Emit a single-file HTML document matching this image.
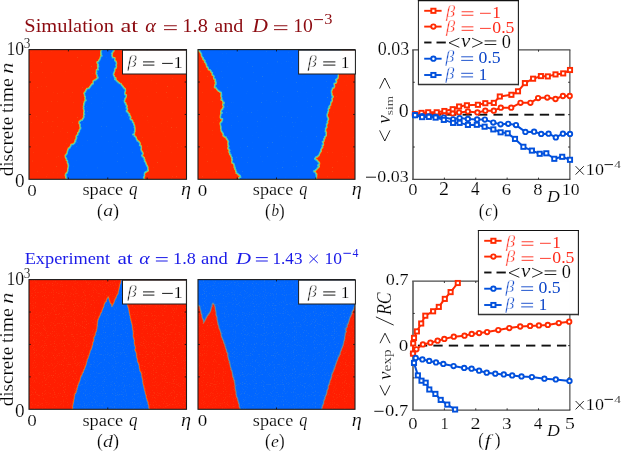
<!DOCTYPE html>
<html><head><meta charset="utf-8"><title>figure</title>
<style>
html,body{margin:0;padding:0;background:#fff;}
body{width:623px;height:452px;overflow:hidden;position:relative;font-family:"Liberation Serif",serif;}
svg{position:absolute;left:0;top:0;display:block;filter:blur(0.3px);}
svg text{font-family:"Liberation Serif",serif;white-space:pre;}
</style></head><body>
<svg width="623" height="452" viewBox="0 0 623 452">
<defs>
<filter id="nzTop" x="0" y="0" width="100%" height="100%" color-interpolation-filters="sRGB">
<feTurbulence type="fractalNoise" baseFrequency="0.8" numOctaves="1" seed="11" result="n"/>
<feColorMatrix in="n" type="matrix" values="0 0 0 0 0.8  0 0 0 0 0.9  0 0 0 0 0.45  0 0 0 6 -4.3" result="s0"/>
<feComponentTransfer in="s0" result="sp"><feFuncA type="linear" slope="0.28"/></feComponentTransfer>
<feComposite in="sp" in2="SourceGraphic" operator="atop"/>
</filter>
<filter id="nzBot" x="0" y="0" width="100%" height="100%" color-interpolation-filters="sRGB">
<feTurbulence type="fractalNoise" baseFrequency="0.9" numOctaves="1" seed="5" result="n"/>
<feColorMatrix in="n" type="matrix" values="0 0 0 0 0.9  0 0 0 0 0.85  0 0 0 0 0.45  0 0 0 5 -2.9" result="s0"/>
<feComponentTransfer in="s0" result="sp"><feFuncA type="linear" slope="0.13"/></feComponentTransfer>
<feComposite in="sp" in2="SourceGraphic" operator="atop"/>
</filter>
</defs>
<g opacity="0.999">
<clipPath id="ca"><rect x="29.0" y="49.6" width="157.5" height="129.70000000000002"/></clipPath>
<g clip-path="url(#ca)"><g filter="url(#nzTop)">
<rect x="27.0" y="47.6" width="161.5" height="133.70000000000002" fill="#ff2800"/>
<path d="M102.2 49.0 L102.2 50.0 L101.7 50.0 L101.7 51.0 L101.1 51.0 L101.1 51.9 L101.0 51.9 L101.0 52.8 L101.7 52.8 L101.7 53.6 L101.0 53.6 L101.0 54.5 L101.7 54.5 L101.7 55.4 L102.1 55.4 L102.1 56.2 L100.8 56.2 L100.8 57.1 L100.7 57.1 L100.7 58.0 L100.3 58.0 L100.3 59.0 L100.0 59.0 L100.0 60.0 L99.1 60.0 L99.1 60.9 L98.8 60.9 L98.8 61.9 L97.3 61.9 L97.3 62.9 L97.7 62.9 L97.7 63.7 L98.3 63.7 L98.3 64.6 L98.6 64.6 L98.6 65.4 L97.8 65.4 L97.8 66.2 L98.8 66.2 L98.8 67.1 L98.1 67.1 L98.1 67.9 L97.9 67.9 L97.9 68.9 L98.5 68.9 L98.5 69.9 L96.7 69.9 L96.7 70.9 L96.6 70.9 L96.6 71.9 L97.0 71.9 L97.0 72.7 L96.4 72.7 L96.4 73.6 L96.6 73.6 L96.6 74.4 L97.2 74.4 L97.2 75.2 L97.4 75.2 L97.4 76.1 L97.3 76.1 L97.3 76.9 L98.2 76.9 L98.2 77.9 L97.7 77.9 L97.7 78.8 L96.6 78.8 L96.6 79.8 L95.2 79.8 L95.2 80.8 L93.5 80.8 L93.5 81.6 L93.3 81.6 L93.3 82.5 L93.4 82.5 L93.4 83.3 L93.3 83.3 L93.3 84.1 L92.0 84.1 L92.0 85.0 L91.2 85.0 L91.2 85.8 L90.7 85.8 L90.7 86.8 L90.0 86.8 L90.0 87.8 L89.2 87.8 L89.2 88.8 L86.9 88.8 L86.9 89.7 L86.3 89.7 L86.3 90.5 L85.8 90.5 L85.8 91.4 L85.7 91.4 L85.7 92.3 L84.7 92.3 L84.7 93.0 L84.3 93.0 L84.3 93.7 L84.7 93.7 L84.7 94.6 L84.9 94.6 L84.9 95.4 L84.8 95.4 L84.8 96.3 L85.5 96.3 L85.5 97.2 L85.4 97.2 L85.4 98.1 L85.3 98.1 L85.3 98.9 L85.4 98.9 L85.4 99.8 L86.2 99.8 L86.2 100.7 L85.2 100.7 L85.2 101.6 L84.6 101.6 L84.6 102.4 L84.8 102.4 L84.8 103.3 L84.0 103.3 L84.0 104.2 L84.3 104.2 L84.3 105.2 L83.9 105.2 L83.9 106.1 L83.7 106.1 L83.7 107.0 L84.1 107.0 L84.1 108.0 L83.7 108.0 L83.7 109.0 L84.1 109.0 L84.1 110.0 L84.3 110.0 L84.3 111.0 L84.5 111.0 L84.5 112.0 L84.0 112.0 L84.0 112.8 L84.0 112.8 L84.0 113.7 L84.7 113.7 L84.7 114.5 L84.2 114.5 L84.2 115.3 L83.8 115.3 L83.8 116.2 L84.2 116.2 L84.2 117.0 L84.1 117.0 L84.1 117.8 L83.5 117.8 L83.5 118.7 L82.9 118.7 L82.9 119.5 L82.4 119.5 L82.4 120.5 L80.6 120.5 L80.6 121.5 L79.4 121.5 L79.4 122.5 L79.3 122.5 L79.3 123.4 L80.0 123.4 L80.0 124.4 L80.5 124.4 L80.5 125.3 L80.1 125.3 L80.1 126.3 L80.3 126.3 L80.3 127.2 L80.9 127.2 L80.9 128.2 L80.8 128.2 L80.8 129.1 L80.0 129.1 L80.0 130.0 L79.4 130.0 L79.4 130.9 L79.6 130.9 L79.6 131.8 L79.0 131.8 L79.0 132.8 L78.0 132.8 L78.0 133.7 L78.2 133.7 L78.2 134.6 L77.8 134.6 L77.8 135.5 L76.7 135.5 L76.7 136.4 L76.4 136.4 L76.4 137.3 L76.9 137.3 L76.9 138.2 L76.3 138.2 L76.3 139.2 L76.2 139.2 L76.2 140.1 L75.4 140.1 L75.4 141.0 L75.8 141.0 L75.8 141.9 L74.9 141.9 L74.9 142.8 L74.7 142.8 L74.7 143.7 L73.4 143.7 L73.4 144.6 L71.2 144.6 L71.2 145.6 L71.0 145.6 L71.0 146.5 L70.3 146.5 L70.3 147.4 L70.0 147.4 L70.0 148.3 L68.6 148.3 L68.6 149.3 L68.2 149.3 L68.2 150.3 L67.9 150.3 L67.9 151.3 L67.5 151.3 L67.5 152.3 L67.5 152.3 L67.5 153.3 L67.1 153.3 L67.1 154.3 L66.3 154.3 L66.3 155.3 L65.5 155.3 L65.5 156.3 L65.6 156.3 L65.6 157.3 L66.1 157.3 L66.1 158.3 L66.7 158.3 L66.7 159.2 L66.6 159.2 L66.6 160.2 L67.6 160.2 L67.6 161.2 L67.7 161.2 L67.7 162.1 L67.6 162.1 L67.6 163.0 L68.2 163.0 L68.2 163.9 L68.3 163.9 L68.3 164.9 L68.7 164.9 L68.7 165.8 L68.6 165.8 L68.6 166.7 L68.4 166.7 L68.4 167.6 L68.3 167.6 L68.3 168.5 L68.0 168.5 L68.0 169.4 L68.0 169.4 L68.0 170.3 L68.1 170.3 L68.1 171.3 L67.6 171.3 L67.6 172.2 L67.5 172.2 L67.5 173.1 L66.5 173.1 L66.5 174.0 L65.8 174.0 L65.8 174.9 L65.6 174.9 L65.6 175.7 L66.4 175.7 L66.4 176.6 L66.0 176.6 L66.0 177.4 L66.4 177.4 L66.4 178.3 L66.9 178.3 L66.9 179.1 L66.3 179.1 L66.3 180.0 L66.4 180.0 L143.5 180.0 L143.1 180.0 L143.1 179.2 L143.9 179.2 L143.9 178.3 L143.4 178.3 L143.4 177.4 L143.6 177.4 L143.6 176.6 L144.2 176.6 L144.2 175.8 L144.4 175.8 L144.4 174.9 L144.1 174.9 L144.1 174.0 L144.3 174.0 L144.3 173.2 L144.4 173.2 L144.4 172.4 L145.4 172.4 L145.4 171.6 L146.8 171.6 L146.8 170.8 L148.0 170.8 L148.0 170.0 L147.5 170.0 L147.5 169.0 L147.6 169.0 L147.6 168.0 L147.6 168.0 L147.6 167.0 L147.2 167.0 L147.2 166.0 L146.5 166.0 L146.5 165.1 L146.2 165.1 L146.2 164.1 L145.6 164.1 L145.6 163.2 L145.6 163.2 L145.6 162.3 L144.9 162.3 L144.9 161.4 L144.3 161.4 L144.3 160.4 L144.6 160.4 L144.6 159.5 L143.9 159.5 L143.9 158.6 L144.1 158.6 L144.1 157.7 L143.0 157.7 L143.0 156.8 L142.0 156.8 L142.0 155.8 L141.6 155.8 L141.6 154.9 L142.5 154.9 L142.5 154.0 L142.8 154.0 L142.8 153.1 L142.4 153.1 L142.4 152.2 L141.9 152.2 L141.9 151.3 L141.2 151.3 L141.2 150.4 L141.0 150.4 L141.0 149.4 L140.8 149.4 L140.8 148.5 L141.1 148.5 L141.1 147.6 L141.1 147.6 L141.1 146.7 L140.8 146.7 L140.8 145.8 L139.4 145.8 L139.4 144.9 L139.7 144.9 L139.7 144.0 L139.9 144.0 L139.9 143.0 L139.2 143.0 L139.2 142.1 L138.5 142.1 L138.5 141.2 L137.1 141.2 L137.1 140.3 L136.7 140.3 L136.7 139.4 L136.2 139.4 L136.2 138.5 L136.0 138.5 L136.0 137.6 L135.5 137.6 L135.5 136.8 L134.2 136.8 L134.2 135.9 L134.3 135.9 L134.3 135.0 L132.7 135.0 L132.7 134.1 L133.9 134.1 L133.9 133.2 L134.3 133.2 L134.3 132.3 L134.2 132.3 L134.2 131.4 L134.7 131.4 L134.7 130.5 L134.6 130.5 L134.6 129.6 L134.7 129.6 L134.7 128.7 L134.7 128.7 L134.7 127.8 L134.1 127.8 L134.1 127.0 L134.4 127.0 L134.4 126.1 L134.3 126.1 L134.3 125.3 L133.7 125.3 L133.7 124.5 L133.5 124.5 L133.5 123.6 L133.5 123.6 L133.5 122.8 L132.4 122.8 L132.4 121.8 L132.4 121.8 L132.4 120.8 L131.8 120.8 L131.8 119.9 L130.4 119.9 L130.4 118.9 L129.9 118.9 L129.9 117.9 L130.6 117.9 L130.6 116.9 L130.1 116.9 L130.1 115.9 L128.9 115.9 L128.9 114.9 L129.4 114.9 L129.4 113.9 L128.4 113.9 L128.4 112.9 L127.6 112.9 L127.6 111.9 L126.3 111.9 L126.3 110.9 L126.2 110.9 L126.2 110.0 L127.0 110.0 L127.0 109.2 L127.2 109.2 L127.2 108.3 L126.0 108.3 L126.0 107.5 L126.4 107.5 L126.4 106.6 L126.8 106.6 L126.8 105.8 L126.3 105.8 L126.3 104.9 L125.4 104.9 L125.4 103.9 L125.6 103.9 L125.6 102.9 L124.5 102.9 L124.5 102.0 L124.2 102.0 L124.2 101.0 L124.2 101.0 L124.2 100.0 L124.7 100.0 L124.7 99.0 L124.7 99.0 L124.7 98.0 L125.5 98.0 L125.5 97.0 L125.9 97.0 L125.9 96.0 L126.1 96.0 L126.1 95.1 L124.9 95.1 L124.9 94.2 L124.6 94.2 L124.6 93.3 L124.6 93.3 L124.6 92.5 L124.7 92.5 L124.7 91.6 L125.2 91.6 L125.2 90.7 L125.2 90.7 L125.2 89.8 L125.0 89.8 L125.0 88.8 L123.9 88.8 L123.9 87.8 L123.1 87.8 L123.1 86.8 L122.4 86.8 L122.4 85.8 L121.5 85.8 L121.5 84.8 L120.9 84.8 L120.9 83.8 L119.1 83.8 L119.1 82.8 L117.9 82.8 L117.9 81.8 L116.8 81.8 L116.8 80.8 L115.9 80.8 L115.9 79.8 L114.6 79.8 L114.6 78.9 L115.6 78.9 L115.6 77.9 L114.3 77.9 L114.3 76.9 L114.2 76.9 L114.2 75.9 L113.5 75.9 L113.5 74.9 L113.2 74.9 L113.2 73.9 L113.3 73.9 L113.3 72.9 L113.9 72.9 L113.9 72.1 L114.0 72.1 L114.0 71.2 L114.5 71.2 L114.5 70.4 L114.5 70.4 L114.5 69.6 L114.4 69.6 L114.4 68.7 L115.0 68.7 L115.0 67.9 L115.9 67.9 L115.9 67.1 L116.2 67.1 L116.2 66.2 L116.1 66.2 L116.1 65.4 L115.8 65.4 L115.8 64.6 L116.2 64.6 L116.2 63.7 L116.3 63.7 L116.3 62.9 L116.1 62.9 L116.1 61.9 L115.6 61.9 L115.6 61.0 L114.6 61.0 L114.6 60.0 L114.6 60.0 L114.6 59.0 L114.7 59.0 L114.7 58.0 L112.5 58.0 L112.5 57.0 L112.0 57.0 L112.0 56.0 L111.7 56.0 L111.7 55.0 L112.1 55.0 L112.1 54.0 L111.4 54.0 L111.4 53.0 L112.3 53.0 L112.3 52.0 L112.8 52.0 L112.8 51.0 L113.7 51.0 L113.7 50.0 L113.2 50.0 L113.2 49.0 Z" fill="none" stroke="#ffd000" stroke-width="2.0" stroke-opacity="0.8" stroke-linejoin="round"/>
<path d="M102.2 49.0 L102.2 50.0 L101.7 50.0 L101.7 51.0 L101.1 51.0 L101.1 51.9 L101.0 51.9 L101.0 52.8 L101.7 52.8 L101.7 53.6 L101.0 53.6 L101.0 54.5 L101.7 54.5 L101.7 55.4 L102.1 55.4 L102.1 56.2 L100.8 56.2 L100.8 57.1 L100.7 57.1 L100.7 58.0 L100.3 58.0 L100.3 59.0 L100.0 59.0 L100.0 60.0 L99.1 60.0 L99.1 60.9 L98.8 60.9 L98.8 61.9 L97.3 61.9 L97.3 62.9 L97.7 62.9 L97.7 63.7 L98.3 63.7 L98.3 64.6 L98.6 64.6 L98.6 65.4 L97.8 65.4 L97.8 66.2 L98.8 66.2 L98.8 67.1 L98.1 67.1 L98.1 67.9 L97.9 67.9 L97.9 68.9 L98.5 68.9 L98.5 69.9 L96.7 69.9 L96.7 70.9 L96.6 70.9 L96.6 71.9 L97.0 71.9 L97.0 72.7 L96.4 72.7 L96.4 73.6 L96.6 73.6 L96.6 74.4 L97.2 74.4 L97.2 75.2 L97.4 75.2 L97.4 76.1 L97.3 76.1 L97.3 76.9 L98.2 76.9 L98.2 77.9 L97.7 77.9 L97.7 78.8 L96.6 78.8 L96.6 79.8 L95.2 79.8 L95.2 80.8 L93.5 80.8 L93.5 81.6 L93.3 81.6 L93.3 82.5 L93.4 82.5 L93.4 83.3 L93.3 83.3 L93.3 84.1 L92.0 84.1 L92.0 85.0 L91.2 85.0 L91.2 85.8 L90.7 85.8 L90.7 86.8 L90.0 86.8 L90.0 87.8 L89.2 87.8 L89.2 88.8 L86.9 88.8 L86.9 89.7 L86.3 89.7 L86.3 90.5 L85.8 90.5 L85.8 91.4 L85.7 91.4 L85.7 92.3 L84.7 92.3 L84.7 93.0 L84.3 93.0 L84.3 93.7 L84.7 93.7 L84.7 94.6 L84.9 94.6 L84.9 95.4 L84.8 95.4 L84.8 96.3 L85.5 96.3 L85.5 97.2 L85.4 97.2 L85.4 98.1 L85.3 98.1 L85.3 98.9 L85.4 98.9 L85.4 99.8 L86.2 99.8 L86.2 100.7 L85.2 100.7 L85.2 101.6 L84.6 101.6 L84.6 102.4 L84.8 102.4 L84.8 103.3 L84.0 103.3 L84.0 104.2 L84.3 104.2 L84.3 105.2 L83.9 105.2 L83.9 106.1 L83.7 106.1 L83.7 107.0 L84.1 107.0 L84.1 108.0 L83.7 108.0 L83.7 109.0 L84.1 109.0 L84.1 110.0 L84.3 110.0 L84.3 111.0 L84.5 111.0 L84.5 112.0 L84.0 112.0 L84.0 112.8 L84.0 112.8 L84.0 113.7 L84.7 113.7 L84.7 114.5 L84.2 114.5 L84.2 115.3 L83.8 115.3 L83.8 116.2 L84.2 116.2 L84.2 117.0 L84.1 117.0 L84.1 117.8 L83.5 117.8 L83.5 118.7 L82.9 118.7 L82.9 119.5 L82.4 119.5 L82.4 120.5 L80.6 120.5 L80.6 121.5 L79.4 121.5 L79.4 122.5 L79.3 122.5 L79.3 123.4 L80.0 123.4 L80.0 124.4 L80.5 124.4 L80.5 125.3 L80.1 125.3 L80.1 126.3 L80.3 126.3 L80.3 127.2 L80.9 127.2 L80.9 128.2 L80.8 128.2 L80.8 129.1 L80.0 129.1 L80.0 130.0 L79.4 130.0 L79.4 130.9 L79.6 130.9 L79.6 131.8 L79.0 131.8 L79.0 132.8 L78.0 132.8 L78.0 133.7 L78.2 133.7 L78.2 134.6 L77.8 134.6 L77.8 135.5 L76.7 135.5 L76.7 136.4 L76.4 136.4 L76.4 137.3 L76.9 137.3 L76.9 138.2 L76.3 138.2 L76.3 139.2 L76.2 139.2 L76.2 140.1 L75.4 140.1 L75.4 141.0 L75.8 141.0 L75.8 141.9 L74.9 141.9 L74.9 142.8 L74.7 142.8 L74.7 143.7 L73.4 143.7 L73.4 144.6 L71.2 144.6 L71.2 145.6 L71.0 145.6 L71.0 146.5 L70.3 146.5 L70.3 147.4 L70.0 147.4 L70.0 148.3 L68.6 148.3 L68.6 149.3 L68.2 149.3 L68.2 150.3 L67.9 150.3 L67.9 151.3 L67.5 151.3 L67.5 152.3 L67.5 152.3 L67.5 153.3 L67.1 153.3 L67.1 154.3 L66.3 154.3 L66.3 155.3 L65.5 155.3 L65.5 156.3 L65.6 156.3 L65.6 157.3 L66.1 157.3 L66.1 158.3 L66.7 158.3 L66.7 159.2 L66.6 159.2 L66.6 160.2 L67.6 160.2 L67.6 161.2 L67.7 161.2 L67.7 162.1 L67.6 162.1 L67.6 163.0 L68.2 163.0 L68.2 163.9 L68.3 163.9 L68.3 164.9 L68.7 164.9 L68.7 165.8 L68.6 165.8 L68.6 166.7 L68.4 166.7 L68.4 167.6 L68.3 167.6 L68.3 168.5 L68.0 168.5 L68.0 169.4 L68.0 169.4 L68.0 170.3 L68.1 170.3 L68.1 171.3 L67.6 171.3 L67.6 172.2 L67.5 172.2 L67.5 173.1 L66.5 173.1 L66.5 174.0 L65.8 174.0 L65.8 174.9 L65.6 174.9 L65.6 175.7 L66.4 175.7 L66.4 176.6 L66.0 176.6 L66.0 177.4 L66.4 177.4 L66.4 178.3 L66.9 178.3 L66.9 179.1 L66.3 179.1 L66.3 180.0 L66.4 180.0 L143.5 180.0 L143.1 180.0 L143.1 179.2 L143.9 179.2 L143.9 178.3 L143.4 178.3 L143.4 177.4 L143.6 177.4 L143.6 176.6 L144.2 176.6 L144.2 175.8 L144.4 175.8 L144.4 174.9 L144.1 174.9 L144.1 174.0 L144.3 174.0 L144.3 173.2 L144.4 173.2 L144.4 172.4 L145.4 172.4 L145.4 171.6 L146.8 171.6 L146.8 170.8 L148.0 170.8 L148.0 170.0 L147.5 170.0 L147.5 169.0 L147.6 169.0 L147.6 168.0 L147.6 168.0 L147.6 167.0 L147.2 167.0 L147.2 166.0 L146.5 166.0 L146.5 165.1 L146.2 165.1 L146.2 164.1 L145.6 164.1 L145.6 163.2 L145.6 163.2 L145.6 162.3 L144.9 162.3 L144.9 161.4 L144.3 161.4 L144.3 160.4 L144.6 160.4 L144.6 159.5 L143.9 159.5 L143.9 158.6 L144.1 158.6 L144.1 157.7 L143.0 157.7 L143.0 156.8 L142.0 156.8 L142.0 155.8 L141.6 155.8 L141.6 154.9 L142.5 154.9 L142.5 154.0 L142.8 154.0 L142.8 153.1 L142.4 153.1 L142.4 152.2 L141.9 152.2 L141.9 151.3 L141.2 151.3 L141.2 150.4 L141.0 150.4 L141.0 149.4 L140.8 149.4 L140.8 148.5 L141.1 148.5 L141.1 147.6 L141.1 147.6 L141.1 146.7 L140.8 146.7 L140.8 145.8 L139.4 145.8 L139.4 144.9 L139.7 144.9 L139.7 144.0 L139.9 144.0 L139.9 143.0 L139.2 143.0 L139.2 142.1 L138.5 142.1 L138.5 141.2 L137.1 141.2 L137.1 140.3 L136.7 140.3 L136.7 139.4 L136.2 139.4 L136.2 138.5 L136.0 138.5 L136.0 137.6 L135.5 137.6 L135.5 136.8 L134.2 136.8 L134.2 135.9 L134.3 135.9 L134.3 135.0 L132.7 135.0 L132.7 134.1 L133.9 134.1 L133.9 133.2 L134.3 133.2 L134.3 132.3 L134.2 132.3 L134.2 131.4 L134.7 131.4 L134.7 130.5 L134.6 130.5 L134.6 129.6 L134.7 129.6 L134.7 128.7 L134.7 128.7 L134.7 127.8 L134.1 127.8 L134.1 127.0 L134.4 127.0 L134.4 126.1 L134.3 126.1 L134.3 125.3 L133.7 125.3 L133.7 124.5 L133.5 124.5 L133.5 123.6 L133.5 123.6 L133.5 122.8 L132.4 122.8 L132.4 121.8 L132.4 121.8 L132.4 120.8 L131.8 120.8 L131.8 119.9 L130.4 119.9 L130.4 118.9 L129.9 118.9 L129.9 117.9 L130.6 117.9 L130.6 116.9 L130.1 116.9 L130.1 115.9 L128.9 115.9 L128.9 114.9 L129.4 114.9 L129.4 113.9 L128.4 113.9 L128.4 112.9 L127.6 112.9 L127.6 111.9 L126.3 111.9 L126.3 110.9 L126.2 110.9 L126.2 110.0 L127.0 110.0 L127.0 109.2 L127.2 109.2 L127.2 108.3 L126.0 108.3 L126.0 107.5 L126.4 107.5 L126.4 106.6 L126.8 106.6 L126.8 105.8 L126.3 105.8 L126.3 104.9 L125.4 104.9 L125.4 103.9 L125.6 103.9 L125.6 102.9 L124.5 102.9 L124.5 102.0 L124.2 102.0 L124.2 101.0 L124.2 101.0 L124.2 100.0 L124.7 100.0 L124.7 99.0 L124.7 99.0 L124.7 98.0 L125.5 98.0 L125.5 97.0 L125.9 97.0 L125.9 96.0 L126.1 96.0 L126.1 95.1 L124.9 95.1 L124.9 94.2 L124.6 94.2 L124.6 93.3 L124.6 93.3 L124.6 92.5 L124.7 92.5 L124.7 91.6 L125.2 91.6 L125.2 90.7 L125.2 90.7 L125.2 89.8 L125.0 89.8 L125.0 88.8 L123.9 88.8 L123.9 87.8 L123.1 87.8 L123.1 86.8 L122.4 86.8 L122.4 85.8 L121.5 85.8 L121.5 84.8 L120.9 84.8 L120.9 83.8 L119.1 83.8 L119.1 82.8 L117.9 82.8 L117.9 81.8 L116.8 81.8 L116.8 80.8 L115.9 80.8 L115.9 79.8 L114.6 79.8 L114.6 78.9 L115.6 78.9 L115.6 77.9 L114.3 77.9 L114.3 76.9 L114.2 76.9 L114.2 75.9 L113.5 75.9 L113.5 74.9 L113.2 74.9 L113.2 73.9 L113.3 73.9 L113.3 72.9 L113.9 72.9 L113.9 72.1 L114.0 72.1 L114.0 71.2 L114.5 71.2 L114.5 70.4 L114.5 70.4 L114.5 69.6 L114.4 69.6 L114.4 68.7 L115.0 68.7 L115.0 67.9 L115.9 67.9 L115.9 67.1 L116.2 67.1 L116.2 66.2 L116.1 66.2 L116.1 65.4 L115.8 65.4 L115.8 64.6 L116.2 64.6 L116.2 63.7 L116.3 63.7 L116.3 62.9 L116.1 62.9 L116.1 61.9 L115.6 61.9 L115.6 61.0 L114.6 61.0 L114.6 60.0 L114.6 60.0 L114.6 59.0 L114.7 59.0 L114.7 58.0 L112.5 58.0 L112.5 57.0 L112.0 57.0 L112.0 56.0 L111.7 56.0 L111.7 55.0 L112.1 55.0 L112.1 54.0 L111.4 54.0 L111.4 53.0 L112.3 53.0 L112.3 52.0 L112.8 52.0 L112.8 51.0 L113.7 51.0 L113.7 50.0 L113.2 50.0 L113.2 49.0 Z" fill="#0064ff" stroke="#38d8d0" stroke-width="1.1" stroke-opacity="0.8" stroke-linejoin="round"/>
</g></g>
<clipPath id="cb"><rect x="198.0" y="49.6" width="157.0" height="129.70000000000002"/></clipPath>
<g clip-path="url(#cb)"><g filter="url(#nzTop)">
<rect x="196.0" y="47.6" width="161.0" height="133.70000000000002" fill="#ff2800"/>
<path d="M198.9 49.0 L198.9 50.0 L199.1 50.0 L199.1 50.9 L200.1 50.9 L200.1 51.9 L200.6 51.9 L200.6 52.8 L201.2 52.8 L201.2 53.8 L201.8 53.8 L201.8 54.7 L201.6 54.7 L201.6 55.7 L202.0 55.7 L202.0 56.6 L202.5 56.6 L202.5 57.6 L203.5 57.6 L203.5 58.5 L203.3 58.5 L203.3 59.4 L204.3 59.4 L204.3 60.3 L205.2 60.3 L205.2 61.3 L204.8 61.3 L204.8 62.2 L205.9 62.2 L205.9 63.1 L206.1 63.1 L206.1 64.0 L206.8 64.0 L206.8 64.9 L206.7 64.9 L206.7 65.9 L207.0 65.9 L207.0 66.8 L208.1 66.8 L208.1 67.7 L208.4 67.7 L208.4 68.6 L208.5 68.6 L208.5 69.6 L210.4 69.6 L210.4 70.5 L211.2 70.5 L211.2 71.4 L211.3 71.4 L211.3 72.3 L212.6 72.3 L212.6 73.2 L212.4 73.2 L212.4 74.2 L212.4 74.2 L212.4 75.1 L213.7 75.1 L213.7 76.0 L214.3 76.0 L214.3 76.9 L213.9 76.9 L213.9 77.9 L214.0 77.9 L214.0 78.8 L215.4 78.8 L215.4 79.8 L215.7 79.8 L215.7 80.7 L215.3 80.7 L215.3 81.7 L216.2 81.7 L216.2 82.7 L215.7 82.7 L215.7 83.6 L216.2 83.6 L216.2 84.6 L215.2 84.6 L215.2 85.5 L215.2 85.5 L215.2 86.5 L214.8 86.5 L214.8 87.4 L216.3 87.4 L216.3 88.3 L216.8 88.3 L216.8 89.2 L217.7 89.2 L217.7 90.2 L218.5 90.2 L218.5 91.1 L220.0 91.1 L220.0 92.0 L221.4 92.0 L221.4 92.9 L221.6 92.9 L221.6 93.7 L221.3 93.7 L221.3 94.6 L221.8 94.6 L221.8 95.4 L221.2 95.4 L221.2 96.2 L221.5 96.2 L221.5 97.2 L221.9 97.2 L221.9 98.1 L222.0 98.1 L222.0 99.1 L221.4 99.1 L221.4 100.0 L222.9 100.0 L222.9 101.0 L223.0 101.0 L223.0 102.0 L224.3 102.0 L224.3 102.9 L224.2 102.9 L224.2 103.9 L223.0 103.9 L223.0 104.8 L223.1 104.8 L223.1 105.8 L223.9 105.8 L223.9 106.8 L223.9 106.8 L223.9 107.7 L223.0 107.7 L223.0 108.7 L222.9 108.7 L222.9 109.6 L221.7 109.6 L221.7 110.6 L221.4 110.6 L221.4 111.4 L221.0 111.4 L221.0 112.3 L222.3 112.3 L222.3 113.2 L221.3 113.2 L221.3 114.0 L220.9 114.0 L220.9 114.9 L221.0 114.9 L221.0 115.8 L220.6 115.8 L220.6 116.7 L220.5 116.7 L220.5 117.6 L220.9 117.6 L220.9 118.5 L222.7 118.5 L222.7 119.4 L222.7 119.4 L222.7 120.3 L222.2 120.3 L222.2 121.2 L222.0 121.2 L222.0 122.1 L221.0 122.1 L221.0 123.0 L220.4 123.0 L220.4 123.8 L220.5 123.8 L220.5 124.7 L220.8 124.7 L220.8 125.6 L220.9 125.6 L220.9 126.5 L221.3 126.5 L221.3 127.4 L220.9 127.4 L220.9 128.3 L221.2 128.3 L221.2 129.3 L221.3 129.3 L221.3 130.2 L221.4 130.2 L221.4 131.1 L222.1 131.1 L222.1 132.0 L222.7 132.0 L222.7 133.0 L223.4 133.0 L223.4 133.9 L223.6 133.9 L223.6 134.8 L223.3 134.8 L223.3 135.8 L224.4 135.8 L224.4 136.7 L226.2 136.7 L226.2 137.6 L226.4 137.6 L226.4 138.6 L227.2 138.6 L227.2 139.5 L227.7 139.5 L227.7 140.4 L228.3 140.4 L228.3 141.3 L228.7 141.3 L228.7 142.2 L228.3 142.2 L228.3 143.1 L228.2 143.1 L228.2 144.0 L228.4 144.0 L228.4 144.9 L228.3 144.9 L228.3 145.8 L229.1 145.8 L229.1 146.7 L228.5 146.7 L228.5 147.7 L228.2 147.7 L228.2 148.7 L229.2 148.7 L229.2 149.7 L230.0 149.7 L230.0 150.7 L229.3 150.7 L229.3 151.6 L229.3 151.6 L229.3 152.6 L230.1 152.6 L230.1 153.5 L229.9 153.5 L229.9 154.4 L231.1 154.4 L231.1 155.4 L231.1 155.4 L231.1 156.3 L231.5 156.3 L231.5 157.3 L232.3 157.3 L232.3 158.3 L231.9 158.3 L231.9 159.2 L232.6 159.2 L232.6 160.2 L232.2 160.2 L232.2 161.2 L232.1 161.2 L232.1 162.1 L232.3 162.1 L232.3 163.0 L233.7 163.0 L233.7 163.9 L234.3 163.9 L234.3 164.9 L234.3 164.9 L234.3 165.8 L234.9 165.8 L234.9 166.7 L234.4 166.7 L234.4 167.6 L235.4 167.6 L235.4 168.6 L235.2 168.6 L235.2 169.5 L236.0 169.5 L236.0 170.5 L236.0 170.5 L236.0 171.4 L236.7 171.4 L236.7 172.4 L236.4 172.4 L236.4 173.2 L238.1 173.2 L238.1 174.0 L238.3 174.0 L238.3 174.8 L239.8 174.8 L239.8 175.6 L240.5 175.6 L240.5 176.5 L240.8 176.5 L240.8 177.4 L239.1 177.4 L239.1 178.2 L239.3 178.2 L239.3 179.1 L239.3 179.1 L239.3 180.0 L239.3 180.0 L316.2 180.0 L316.4 180.0 L316.4 179.1 L315.6 179.1 L315.6 178.3 L316.1 178.3 L316.1 177.4 L316.2 177.4 L316.2 176.6 L316.4 176.6 L316.4 175.7 L316.0 175.7 L316.0 174.9 L316.5 174.9 L316.5 174.0 L315.4 174.0 L315.4 173.1 L315.4 173.1 L315.4 172.2 L313.9 172.2 L313.9 171.4 L313.7 171.4 L313.7 170.5 L315.3 170.5 L315.3 169.6 L316.4 169.6 L316.4 168.7 L317.0 168.7 L317.0 167.7 L318.1 167.7 L318.1 166.8 L319.0 166.8 L319.0 165.9 L317.7 165.9 L317.7 164.9 L318.3 164.9 L318.3 164.0 L319.3 164.0 L319.3 163.1 L318.7 163.1 L318.7 162.1 L317.9 162.1 L317.9 161.2 L317.1 161.2 L317.1 160.3 L315.8 160.3 L315.8 159.3 L314.5 159.3 L314.5 158.4 L315.1 158.4 L315.1 157.5 L315.6 157.5 L315.6 156.7 L317.4 156.7 L317.4 155.8 L318.5 155.8 L318.5 154.9 L319.0 154.9 L319.0 154.0 L319.3 154.0 L319.3 153.2 L319.7 153.2 L319.7 152.3 L320.1 152.3 L320.1 151.4 L320.9 151.4 L320.9 150.4 L320.5 150.4 L320.5 149.5 L321.0 149.5 L321.0 148.6 L321.5 148.6 L321.5 147.6 L322.4 147.6 L322.4 146.7 L322.1 146.7 L322.1 145.8 L322.0 145.8 L322.0 144.9 L323.2 144.9 L323.2 144.0 L323.1 144.0 L323.1 143.0 L322.7 143.0 L322.7 142.1 L322.2 142.1 L322.2 141.2 L323.7 141.2 L323.7 140.3 L323.8 140.3 L323.8 139.4 L323.6 139.4 L323.6 138.5 L324.6 138.5 L324.6 137.6 L324.4 137.6 L324.4 136.6 L325.2 136.6 L325.2 135.7 L326.0 135.7 L326.0 134.8 L326.0 134.8 L326.0 133.9 L325.8 133.9 L325.8 133.0 L326.1 133.0 L326.1 132.0 L325.1 132.0 L325.1 131.1 L325.2 131.1 L325.2 130.2 L325.5 130.2 L325.5 129.3 L325.3 129.3 L325.3 128.3 L325.8 128.3 L325.8 127.4 L326.6 127.4 L326.6 126.5 L326.4 126.5 L326.4 125.6 L326.4 125.6 L326.4 124.7 L326.3 124.7 L326.3 123.8 L327.1 123.8 L327.1 123.0 L327.5 123.0 L327.5 122.1 L327.0 122.1 L327.0 121.2 L327.4 121.2 L327.4 120.3 L327.8 120.3 L327.8 119.4 L328.2 119.4 L328.2 118.5 L327.8 118.5 L327.8 117.6 L327.3 117.6 L327.3 116.7 L327.0 116.7 L327.0 115.8 L326.9 115.8 L326.9 114.9 L326.9 114.9 L326.9 114.0 L327.2 114.0 L327.2 113.2 L327.6 113.2 L327.6 112.3 L327.6 112.3 L327.6 111.5 L328.2 111.5 L328.2 110.7 L328.2 110.7 L328.2 109.8 L328.0 109.8 L328.0 109.0 L328.1 109.0 L328.1 108.1 L329.4 108.1 L329.4 107.2 L328.8 107.2 L328.8 106.3 L329.4 106.3 L329.4 105.3 L330.4 105.3 L330.4 104.4 L330.5 104.4 L330.5 103.5 L330.6 103.5 L330.6 102.6 L330.6 102.6 L330.6 101.7 L331.6 101.7 L331.6 100.8 L332.0 100.8 L332.0 99.9 L331.8 99.9 L331.8 98.9 L331.7 98.9 L331.7 98.0 L332.2 98.0 L332.2 97.1 L332.9 97.1 L332.9 96.2 L331.9 96.2 L331.9 95.2 L331.6 95.2 L331.6 94.3 L331.7 94.3 L331.7 93.3 L331.2 93.3 L331.2 92.4 L331.3 92.4 L331.3 91.5 L331.2 91.5 L331.2 90.5 L331.8 90.5 L331.8 89.6 L332.1 89.6 L332.1 88.6 L332.3 88.6 L332.3 87.7 L333.8 87.7 L333.8 86.8 L334.3 86.8 L334.3 85.8 L334.2 85.8 L334.2 84.9 L333.9 84.9 L333.9 83.9 L333.9 83.9 L333.9 83.0 L335.8 83.0 L335.8 82.0 L336.4 82.0 L336.4 81.1 L335.8 81.1 L335.8 80.1 L335.5 80.1 L335.5 79.2 L336.7 79.2 L336.7 78.2 L337.7 78.2 L337.7 77.3 L337.9 77.3 L337.9 76.4 L337.9 76.4 L337.9 75.4 L338.0 75.4 L338.0 74.5 L338.0 74.5 L338.0 73.6 L338.4 73.6 L338.4 72.6 L338.0 72.6 L338.0 71.7 L338.2 71.7 L338.2 70.8 L338.9 70.8 L338.9 69.9 L339.0 69.9 L339.0 68.9 L338.6 68.9 L338.6 68.0 L338.9 68.0 L338.9 67.1 L338.6 67.1 L338.6 66.2 L338.8 66.2 L338.8 65.3 L339.1 65.3 L339.1 64.4 L338.9 64.4 L338.9 63.6 L339.7 63.6 L339.7 62.7 L340.4 62.7 L340.4 61.8 L340.6 61.8 L340.6 60.9 L340.7 60.9 L340.7 60.0 L340.5 60.0 L340.5 59.1 L341.6 59.1 L341.6 58.2 L341.1 58.2 L341.1 57.2 L340.5 57.2 L340.5 56.3 L341.0 56.3 L341.0 55.4 L340.4 55.4 L340.4 54.5 L340.8 54.5 L340.8 53.6 L340.6 53.6 L340.6 52.7 L340.9 52.7 L340.9 51.8 L340.8 51.8 L340.8 50.8 L341.3 50.8 L341.3 49.9 L340.9 49.9 L340.9 49.0 Z" fill="none" stroke="#ffd000" stroke-width="2.0" stroke-opacity="0.8" stroke-linejoin="round"/>
<path d="M198.9 49.0 L198.9 50.0 L199.1 50.0 L199.1 50.9 L200.1 50.9 L200.1 51.9 L200.6 51.9 L200.6 52.8 L201.2 52.8 L201.2 53.8 L201.8 53.8 L201.8 54.7 L201.6 54.7 L201.6 55.7 L202.0 55.7 L202.0 56.6 L202.5 56.6 L202.5 57.6 L203.5 57.6 L203.5 58.5 L203.3 58.5 L203.3 59.4 L204.3 59.4 L204.3 60.3 L205.2 60.3 L205.2 61.3 L204.8 61.3 L204.8 62.2 L205.9 62.2 L205.9 63.1 L206.1 63.1 L206.1 64.0 L206.8 64.0 L206.8 64.9 L206.7 64.9 L206.7 65.9 L207.0 65.9 L207.0 66.8 L208.1 66.8 L208.1 67.7 L208.4 67.7 L208.4 68.6 L208.5 68.6 L208.5 69.6 L210.4 69.6 L210.4 70.5 L211.2 70.5 L211.2 71.4 L211.3 71.4 L211.3 72.3 L212.6 72.3 L212.6 73.2 L212.4 73.2 L212.4 74.2 L212.4 74.2 L212.4 75.1 L213.7 75.1 L213.7 76.0 L214.3 76.0 L214.3 76.9 L213.9 76.9 L213.9 77.9 L214.0 77.9 L214.0 78.8 L215.4 78.8 L215.4 79.8 L215.7 79.8 L215.7 80.7 L215.3 80.7 L215.3 81.7 L216.2 81.7 L216.2 82.7 L215.7 82.7 L215.7 83.6 L216.2 83.6 L216.2 84.6 L215.2 84.6 L215.2 85.5 L215.2 85.5 L215.2 86.5 L214.8 86.5 L214.8 87.4 L216.3 87.4 L216.3 88.3 L216.8 88.3 L216.8 89.2 L217.7 89.2 L217.7 90.2 L218.5 90.2 L218.5 91.1 L220.0 91.1 L220.0 92.0 L221.4 92.0 L221.4 92.9 L221.6 92.9 L221.6 93.7 L221.3 93.7 L221.3 94.6 L221.8 94.6 L221.8 95.4 L221.2 95.4 L221.2 96.2 L221.5 96.2 L221.5 97.2 L221.9 97.2 L221.9 98.1 L222.0 98.1 L222.0 99.1 L221.4 99.1 L221.4 100.0 L222.9 100.0 L222.9 101.0 L223.0 101.0 L223.0 102.0 L224.3 102.0 L224.3 102.9 L224.2 102.9 L224.2 103.9 L223.0 103.9 L223.0 104.8 L223.1 104.8 L223.1 105.8 L223.9 105.8 L223.9 106.8 L223.9 106.8 L223.9 107.7 L223.0 107.7 L223.0 108.7 L222.9 108.7 L222.9 109.6 L221.7 109.6 L221.7 110.6 L221.4 110.6 L221.4 111.4 L221.0 111.4 L221.0 112.3 L222.3 112.3 L222.3 113.2 L221.3 113.2 L221.3 114.0 L220.9 114.0 L220.9 114.9 L221.0 114.9 L221.0 115.8 L220.6 115.8 L220.6 116.7 L220.5 116.7 L220.5 117.6 L220.9 117.6 L220.9 118.5 L222.7 118.5 L222.7 119.4 L222.7 119.4 L222.7 120.3 L222.2 120.3 L222.2 121.2 L222.0 121.2 L222.0 122.1 L221.0 122.1 L221.0 123.0 L220.4 123.0 L220.4 123.8 L220.5 123.8 L220.5 124.7 L220.8 124.7 L220.8 125.6 L220.9 125.6 L220.9 126.5 L221.3 126.5 L221.3 127.4 L220.9 127.4 L220.9 128.3 L221.2 128.3 L221.2 129.3 L221.3 129.3 L221.3 130.2 L221.4 130.2 L221.4 131.1 L222.1 131.1 L222.1 132.0 L222.7 132.0 L222.7 133.0 L223.4 133.0 L223.4 133.9 L223.6 133.9 L223.6 134.8 L223.3 134.8 L223.3 135.8 L224.4 135.8 L224.4 136.7 L226.2 136.7 L226.2 137.6 L226.4 137.6 L226.4 138.6 L227.2 138.6 L227.2 139.5 L227.7 139.5 L227.7 140.4 L228.3 140.4 L228.3 141.3 L228.7 141.3 L228.7 142.2 L228.3 142.2 L228.3 143.1 L228.2 143.1 L228.2 144.0 L228.4 144.0 L228.4 144.9 L228.3 144.9 L228.3 145.8 L229.1 145.8 L229.1 146.7 L228.5 146.7 L228.5 147.7 L228.2 147.7 L228.2 148.7 L229.2 148.7 L229.2 149.7 L230.0 149.7 L230.0 150.7 L229.3 150.7 L229.3 151.6 L229.3 151.6 L229.3 152.6 L230.1 152.6 L230.1 153.5 L229.9 153.5 L229.9 154.4 L231.1 154.4 L231.1 155.4 L231.1 155.4 L231.1 156.3 L231.5 156.3 L231.5 157.3 L232.3 157.3 L232.3 158.3 L231.9 158.3 L231.9 159.2 L232.6 159.2 L232.6 160.2 L232.2 160.2 L232.2 161.2 L232.1 161.2 L232.1 162.1 L232.3 162.1 L232.3 163.0 L233.7 163.0 L233.7 163.9 L234.3 163.9 L234.3 164.9 L234.3 164.9 L234.3 165.8 L234.9 165.8 L234.9 166.7 L234.4 166.7 L234.4 167.6 L235.4 167.6 L235.4 168.6 L235.2 168.6 L235.2 169.5 L236.0 169.5 L236.0 170.5 L236.0 170.5 L236.0 171.4 L236.7 171.4 L236.7 172.4 L236.4 172.4 L236.4 173.2 L238.1 173.2 L238.1 174.0 L238.3 174.0 L238.3 174.8 L239.8 174.8 L239.8 175.6 L240.5 175.6 L240.5 176.5 L240.8 176.5 L240.8 177.4 L239.1 177.4 L239.1 178.2 L239.3 178.2 L239.3 179.1 L239.3 179.1 L239.3 180.0 L239.3 180.0 L316.2 180.0 L316.4 180.0 L316.4 179.1 L315.6 179.1 L315.6 178.3 L316.1 178.3 L316.1 177.4 L316.2 177.4 L316.2 176.6 L316.4 176.6 L316.4 175.7 L316.0 175.7 L316.0 174.9 L316.5 174.9 L316.5 174.0 L315.4 174.0 L315.4 173.1 L315.4 173.1 L315.4 172.2 L313.9 172.2 L313.9 171.4 L313.7 171.4 L313.7 170.5 L315.3 170.5 L315.3 169.6 L316.4 169.6 L316.4 168.7 L317.0 168.7 L317.0 167.7 L318.1 167.7 L318.1 166.8 L319.0 166.8 L319.0 165.9 L317.7 165.9 L317.7 164.9 L318.3 164.9 L318.3 164.0 L319.3 164.0 L319.3 163.1 L318.7 163.1 L318.7 162.1 L317.9 162.1 L317.9 161.2 L317.1 161.2 L317.1 160.3 L315.8 160.3 L315.8 159.3 L314.5 159.3 L314.5 158.4 L315.1 158.4 L315.1 157.5 L315.6 157.5 L315.6 156.7 L317.4 156.7 L317.4 155.8 L318.5 155.8 L318.5 154.9 L319.0 154.9 L319.0 154.0 L319.3 154.0 L319.3 153.2 L319.7 153.2 L319.7 152.3 L320.1 152.3 L320.1 151.4 L320.9 151.4 L320.9 150.4 L320.5 150.4 L320.5 149.5 L321.0 149.5 L321.0 148.6 L321.5 148.6 L321.5 147.6 L322.4 147.6 L322.4 146.7 L322.1 146.7 L322.1 145.8 L322.0 145.8 L322.0 144.9 L323.2 144.9 L323.2 144.0 L323.1 144.0 L323.1 143.0 L322.7 143.0 L322.7 142.1 L322.2 142.1 L322.2 141.2 L323.7 141.2 L323.7 140.3 L323.8 140.3 L323.8 139.4 L323.6 139.4 L323.6 138.5 L324.6 138.5 L324.6 137.6 L324.4 137.6 L324.4 136.6 L325.2 136.6 L325.2 135.7 L326.0 135.7 L326.0 134.8 L326.0 134.8 L326.0 133.9 L325.8 133.9 L325.8 133.0 L326.1 133.0 L326.1 132.0 L325.1 132.0 L325.1 131.1 L325.2 131.1 L325.2 130.2 L325.5 130.2 L325.5 129.3 L325.3 129.3 L325.3 128.3 L325.8 128.3 L325.8 127.4 L326.6 127.4 L326.6 126.5 L326.4 126.5 L326.4 125.6 L326.4 125.6 L326.4 124.7 L326.3 124.7 L326.3 123.8 L327.1 123.8 L327.1 123.0 L327.5 123.0 L327.5 122.1 L327.0 122.1 L327.0 121.2 L327.4 121.2 L327.4 120.3 L327.8 120.3 L327.8 119.4 L328.2 119.4 L328.2 118.5 L327.8 118.5 L327.8 117.6 L327.3 117.6 L327.3 116.7 L327.0 116.7 L327.0 115.8 L326.9 115.8 L326.9 114.9 L326.9 114.9 L326.9 114.0 L327.2 114.0 L327.2 113.2 L327.6 113.2 L327.6 112.3 L327.6 112.3 L327.6 111.5 L328.2 111.5 L328.2 110.7 L328.2 110.7 L328.2 109.8 L328.0 109.8 L328.0 109.0 L328.1 109.0 L328.1 108.1 L329.4 108.1 L329.4 107.2 L328.8 107.2 L328.8 106.3 L329.4 106.3 L329.4 105.3 L330.4 105.3 L330.4 104.4 L330.5 104.4 L330.5 103.5 L330.6 103.5 L330.6 102.6 L330.6 102.6 L330.6 101.7 L331.6 101.7 L331.6 100.8 L332.0 100.8 L332.0 99.9 L331.8 99.9 L331.8 98.9 L331.7 98.9 L331.7 98.0 L332.2 98.0 L332.2 97.1 L332.9 97.1 L332.9 96.2 L331.9 96.2 L331.9 95.2 L331.6 95.2 L331.6 94.3 L331.7 94.3 L331.7 93.3 L331.2 93.3 L331.2 92.4 L331.3 92.4 L331.3 91.5 L331.2 91.5 L331.2 90.5 L331.8 90.5 L331.8 89.6 L332.1 89.6 L332.1 88.6 L332.3 88.6 L332.3 87.7 L333.8 87.7 L333.8 86.8 L334.3 86.8 L334.3 85.8 L334.2 85.8 L334.2 84.9 L333.9 84.9 L333.9 83.9 L333.9 83.9 L333.9 83.0 L335.8 83.0 L335.8 82.0 L336.4 82.0 L336.4 81.1 L335.8 81.1 L335.8 80.1 L335.5 80.1 L335.5 79.2 L336.7 79.2 L336.7 78.2 L337.7 78.2 L337.7 77.3 L337.9 77.3 L337.9 76.4 L337.9 76.4 L337.9 75.4 L338.0 75.4 L338.0 74.5 L338.0 74.5 L338.0 73.6 L338.4 73.6 L338.4 72.6 L338.0 72.6 L338.0 71.7 L338.2 71.7 L338.2 70.8 L338.9 70.8 L338.9 69.9 L339.0 69.9 L339.0 68.9 L338.6 68.9 L338.6 68.0 L338.9 68.0 L338.9 67.1 L338.6 67.1 L338.6 66.2 L338.8 66.2 L338.8 65.3 L339.1 65.3 L339.1 64.4 L338.9 64.4 L338.9 63.6 L339.7 63.6 L339.7 62.7 L340.4 62.7 L340.4 61.8 L340.6 61.8 L340.6 60.9 L340.7 60.9 L340.7 60.0 L340.5 60.0 L340.5 59.1 L341.6 59.1 L341.6 58.2 L341.1 58.2 L341.1 57.2 L340.5 57.2 L340.5 56.3 L341.0 56.3 L341.0 55.4 L340.4 55.4 L340.4 54.5 L340.8 54.5 L340.8 53.6 L340.6 53.6 L340.6 52.7 L340.9 52.7 L340.9 51.8 L340.8 51.8 L340.8 50.8 L341.3 50.8 L341.3 49.9 L340.9 49.9 L340.9 49.0 Z" fill="#0064ff" stroke="#38d8d0" stroke-width="1.1" stroke-opacity="0.8" stroke-linejoin="round"/>
</g></g>
<clipPath id="cd"><rect x="29.0" y="279.6" width="157.5" height="129.7"/></clipPath>
<g clip-path="url(#cd)"><g filter="url(#nzBot)">
<rect x="27.0" y="277.6" width="161.5" height="133.7" fill="#ff1e00"/>
<path d="M72.3 410.0 L72.5 410.0 L72.5 409.1 L72.9 409.1 L72.9 408.1 L73.1 408.1 L73.1 407.1 L72.8 407.1 L72.8 406.2 L73.1 406.2 L73.1 405.2 L73.2 405.2 L73.2 404.3 L73.4 404.3 L73.4 403.3 L73.5 403.3 L73.5 402.4 L74.0 402.4 L74.0 401.5 L74.0 401.5 L74.0 400.6 L74.1 400.6 L74.1 399.7 L74.2 399.7 L74.2 398.8 L74.6 398.8 L74.6 398.0 L74.5 398.0 L74.5 397.1 L74.6 397.1 L74.6 396.2 L74.8 396.2 L74.8 395.3 L75.1 395.3 L75.1 394.4 L75.1 394.4 L75.1 393.5 L76.1 393.5 L76.1 392.6 L76.4 392.6 L76.4 391.8 L76.7 391.8 L76.7 390.9 L76.7 390.9 L76.7 390.0 L77.3 390.0 L77.3 389.1 L77.2 389.1 L77.2 388.2 L77.6 388.2 L77.6 387.3 L78.0 387.3 L78.0 386.5 L78.0 386.5 L78.0 385.6 L78.3 385.6 L78.3 384.7 L78.6 384.7 L78.6 383.8 L78.8 383.8 L78.8 382.9 L79.3 382.9 L79.3 382.0 L79.8 382.0 L79.8 381.1 L80.0 381.1 L80.0 380.3 L80.4 380.3 L80.4 379.4 L80.4 379.4 L80.4 378.5 L80.7 378.5 L80.7 377.6 L81.0 377.6 L81.0 376.7 L81.3 376.7 L81.3 375.8 L82.0 375.8 L82.0 374.9 L82.3 374.9 L82.3 374.0 L82.7 374.0 L82.7 373.1 L83.0 373.1 L83.0 372.3 L83.6 372.3 L83.6 371.4 L83.8 371.4 L83.8 370.5 L84.1 370.5 L84.1 369.6 L85.0 369.6 L85.0 368.7 L84.9 368.7 L84.9 367.8 L85.3 367.8 L85.3 366.9 L85.6 366.9 L85.6 366.0 L86.0 366.0 L86.0 365.1 L86.4 365.1 L86.4 364.3 L86.5 364.3 L86.5 363.4 L86.7 363.4 L86.7 362.5 L86.9 362.5 L86.9 361.6 L87.4 361.6 L87.4 360.7 L87.3 360.7 L87.3 359.8 L87.7 359.8 L87.7 358.9 L88.2 358.9 L88.2 358.1 L88.6 358.1 L88.6 357.2 L88.6 357.2 L88.6 356.3 L89.2 356.3 L89.2 355.4 L89.4 355.4 L89.4 354.5 L89.6 354.5 L89.6 353.6 L90.0 353.6 L90.0 352.8 L90.3 352.8 L90.3 351.9 L90.3 351.9 L90.3 351.0 L90.8 351.0 L90.8 350.1 L91.3 350.1 L91.3 349.2 L91.7 349.2 L91.7 348.4 L91.9 348.4 L91.9 347.5 L92.1 347.5 L92.1 346.6 L92.3 346.6 L92.3 345.8 L92.7 345.8 L92.7 344.9 L93.1 344.9 L93.1 344.0 L93.0 344.0 L93.0 343.1 L93.2 343.1 L93.2 342.1 L93.7 342.1 L93.7 341.2 L94.0 341.2 L94.0 340.2 L94.2 340.2 L94.2 339.3 L93.9 339.3 L93.9 338.3 L94.0 338.3 L94.0 337.4 L94.6 337.4 L94.6 336.5 L94.9 336.5 L94.9 335.7 L95.4 335.7 L95.4 334.8 L95.7 334.8 L95.7 333.9 L95.6 333.9 L95.6 333.0 L95.9 333.0 L95.9 332.2 L96.4 332.2 L96.4 331.3 L96.8 331.3 L96.8 330.4 L96.8 330.4 L96.8 329.5 L97.1 329.5 L97.1 328.7 L97.2 328.7 L97.2 327.8 L97.3 327.8 L97.3 326.9 L97.3 326.9 L97.3 326.0 L97.6 326.0 L97.6 325.1 L97.5 325.1 L97.5 324.2 L97.7 324.2 L97.7 323.3 L97.8 323.3 L97.8 322.4 L97.7 322.4 L97.7 321.5 L98.1 321.5 L98.1 320.6 L98.0 320.6 L98.0 319.7 L98.6 319.7 L98.6 318.8 L98.8 318.8 L98.8 317.9 L99.3 317.9 L99.3 317.0 L99.7 317.0 L99.7 316.1 L100.1 316.1 L100.1 315.3 L100.6 315.3 L100.6 314.4 L100.7 314.4 L100.7 313.5 L101.2 313.5 L101.2 312.6 L102.0 312.6 L102.0 311.7 L102.1 311.7 L102.1 310.8 L102.3 310.8 L102.3 309.9 L102.9 309.9 L102.9 309.0 L103.0 309.0 L103.0 308.1 L103.5 308.1 L103.5 307.3 L103.9 307.3 L103.9 306.4 L104.2 306.4 L104.2 305.5 L104.2 305.5 L104.2 304.6 L104.6 304.6 L104.6 303.7 L105.1 303.7 L105.1 302.8 L105.5 302.8 L105.5 302.0 L106.6 302.0 L106.6 301.1 L106.5 301.1 L106.5 300.3 L106.8 300.3 L106.8 299.4 L107.2 299.4 L107.2 298.6 L107.7 298.6 L107.7 297.8 L108.3 297.8 L108.3 296.9 L108.2 297.8 L108.3 297.8 L108.3 298.6 L108.8 298.6 L108.8 299.5 L108.9 299.5 L108.9 300.4 L109.2 300.4 L109.2 301.2 L109.6 301.2 L109.6 302.1 L109.8 302.1 L109.8 303.1 L110.3 303.1 L110.3 304.0 L111.2 304.0 L111.2 305.0 L111.4 305.0 L111.4 305.9 L111.6 305.9 L111.6 306.9 L112.2 306.9 L112.2 305.9 L112.8 305.9 L112.8 305.0 L113.2 305.0 L113.2 304.0 L113.8 304.0 L113.8 303.1 L114.2 303.1 L114.2 302.1 L114.6 302.1 L114.6 301.2 L114.9 301.2 L114.9 300.3 L115.2 300.3 L115.2 299.4 L115.5 299.4 L115.5 298.5 L116.2 298.5 L116.2 297.7 L116.6 297.7 L116.6 296.8 L116.7 296.8 L116.7 295.9 L117.1 295.9 L117.1 295.0 L117.8 295.0 L117.8 294.1 L118.3 294.1 L118.3 293.2 L118.4 293.2 L118.4 292.3 L118.5 292.3 L118.5 291.4 L118.8 291.4 L118.8 290.5 L119.0 290.5 L119.0 289.6 L119.2 289.6 L119.2 288.7 L119.5 288.7 L119.5 287.8 L119.6 287.8 L119.6 286.9 L119.9 286.9 L119.9 286.0 L120.0 286.0 L120.0 285.1 L120.1 285.1 L120.1 284.2 L120.6 284.2 L120.6 283.4 L120.8 283.4 L120.8 282.5 L121.1 282.5 L121.1 281.6 L121.1 281.6 L121.1 280.8 L121.3 280.8 L121.3 279.9 L121.5 279.9 L121.5 279.0 L121.8 279.0 L123.9 279.0 L123.9 279.9 L124.2 279.9 L124.2 280.8 L124.3 280.8 L124.3 281.7 L124.6 281.7 L124.6 282.6 L124.7 282.6 L124.7 283.6 L124.8 283.6 L124.8 284.5 L124.9 284.5 L124.9 285.4 L124.7 285.4 L124.7 286.3 L125.1 286.3 L125.1 287.2 L124.8 287.2 L124.8 288.1 L125.3 288.1 L125.3 289.0 L125.2 289.0 L125.2 289.9 L125.4 289.9 L125.4 290.8 L125.6 290.8 L125.6 291.8 L125.8 291.8 L125.8 292.7 L125.8 292.7 L125.8 293.6 L126.0 293.6 L126.0 294.5 L126.2 294.5 L126.2 295.4 L126.3 295.4 L126.3 296.3 L126.4 296.3 L126.4 297.2 L126.4 297.2 L126.4 298.1 L126.0 298.1 L126.0 299.0 L126.3 299.0 L126.3 299.9 L126.7 299.9 L126.7 300.9 L127.0 300.9 L127.0 301.8 L127.0 301.8 L127.0 302.7 L127.3 302.7 L127.3 303.6 L127.2 303.6 L127.2 304.5 L127.2 304.5 L127.2 305.4 L127.3 305.4 L127.3 306.3 L127.7 306.3 L127.7 307.2 L127.9 307.2 L127.9 308.1 L128.3 308.1 L128.3 309.0 L128.3 309.0 L128.3 309.9 L128.6 309.9 L128.6 310.8 L128.9 310.8 L128.9 311.7 L128.8 311.7 L128.8 312.6 L129.1 312.6 L129.1 313.5 L129.3 313.5 L129.3 314.4 L129.4 314.4 L129.4 315.3 L129.7 315.3 L129.7 316.1 L130.0 316.1 L130.0 317.0 L129.9 317.0 L129.9 317.9 L130.1 317.9 L130.1 318.8 L130.5 318.8 L130.5 319.7 L130.4 319.7 L130.4 320.6 L130.9 320.6 L130.9 321.5 L131.0 321.5 L131.0 322.4 L131.3 322.4 L131.3 323.3 L131.5 323.3 L131.5 324.2 L131.8 324.2 L131.8 325.1 L132.0 325.1 L132.0 326.0 L132.1 326.0 L132.1 326.9 L132.0 326.9 L132.0 327.8 L132.3 327.8 L132.3 328.7 L132.2 328.7 L132.2 329.6 L132.5 329.6 L132.5 330.5 L132.8 330.5 L132.8 331.4 L132.8 331.4 L132.8 332.2 L132.8 332.2 L132.8 333.1 L133.0 333.1 L133.0 334.0 L132.9 334.0 L132.9 334.9 L132.8 334.9 L132.8 335.8 L132.8 335.8 L132.8 336.7 L133.0 336.7 L133.0 337.6 L133.2 337.6 L133.2 338.5 L133.6 338.5 L133.6 339.4 L133.9 339.4 L133.9 340.4 L134.1 340.4 L134.1 341.3 L134.1 341.3 L134.1 342.2 L133.9 342.2 L133.9 343.1 L134.0 343.1 L134.0 344.0 L134.3 344.0 L134.3 344.9 L134.3 344.9 L134.3 345.8 L134.8 345.8 L134.8 346.6 L135.0 346.6 L135.0 347.5 L135.2 347.5 L135.2 348.4 L134.9 348.4 L134.9 349.2 L134.6 349.2 L134.6 350.1 L134.8 350.1 L134.8 351.0 L135.3 351.0 L135.3 351.9 L135.7 351.9 L135.7 352.8 L136.0 352.8 L136.0 353.7 L136.3 353.7 L136.3 354.6 L136.0 354.6 L136.0 355.4 L136.5 355.4 L136.5 356.3 L136.4 356.3 L136.4 357.2 L136.5 357.2 L136.5 358.1 L136.9 358.1 L136.9 359.0 L137.2 359.0 L137.2 359.9 L137.1 359.9 L137.1 360.8 L137.2 360.8 L137.2 361.6 L137.4 361.6 L137.4 362.5 L137.9 362.5 L137.9 363.4 L138.5 363.4 L138.5 364.3 L138.6 364.3 L138.6 365.2 L138.8 365.2 L138.8 366.1 L139.0 366.1 L139.0 366.9 L138.9 366.9 L138.9 367.8 L139.1 367.8 L139.1 368.7 L139.4 368.7 L139.4 369.6 L139.5 369.6 L139.5 370.4 L139.6 370.4 L139.6 371.3 L140.2 371.3 L140.2 372.2 L140.9 372.2 L140.9 373.1 L141.0 373.1 L141.0 373.9 L141.3 373.9 L141.3 374.8 L141.4 374.8 L141.4 375.7 L141.4 375.7 L141.4 376.6 L141.7 376.6 L141.7 377.4 L141.8 377.4 L141.8 378.3 L142.2 378.3 L142.2 379.2 L142.2 379.2 L142.2 380.1 L142.5 380.1 L142.5 381.0 L142.5 381.0 L142.5 381.9 L142.5 381.9 L142.5 382.7 L142.7 382.7 L142.7 383.6 L142.9 383.6 L142.9 384.5 L143.0 384.5 L143.0 385.4 L143.3 385.4 L143.3 386.3 L143.7 386.3 L143.7 387.2 L143.7 387.2 L143.7 388.1 L144.1 388.1 L144.1 388.9 L144.1 388.9 L144.1 389.8 L144.2 389.8 L144.2 390.7 L144.5 390.7 L144.5 391.6 L144.9 391.6 L144.9 392.5 L144.9 392.5 L144.9 393.4 L145.2 393.4 L145.2 394.2 L145.4 394.2 L145.4 395.1 L145.8 395.1 L145.8 396.0 L145.9 396.0 L145.9 396.9 L145.9 396.9 L145.9 397.8 L146.1 397.8 L146.1 398.7 L146.7 398.7 L146.7 399.6 L146.7 399.6 L146.7 400.4 L147.1 400.4 L147.1 401.3 L147.5 401.3 L147.5 402.2 L147.8 402.2 L147.8 403.1 L147.7 403.1 L147.7 404.0 L148.0 404.0 L148.0 404.9 L148.4 404.9 L148.4 405.7 L148.5 405.7 L148.5 406.6 L148.5 406.6 L148.5 407.4 L148.4 407.4 L148.4 408.3 L149.1 408.3 L149.1 409.1 L149.1 409.1 L149.1 410.0 L148.8 410.0 Z" fill="none" stroke="#ffd000" stroke-width="1.9" stroke-opacity="0.28" stroke-linejoin="round"/>
<path d="M72.3 410.0 L72.5 410.0 L72.5 409.1 L72.9 409.1 L72.9 408.1 L73.1 408.1 L73.1 407.1 L72.8 407.1 L72.8 406.2 L73.1 406.2 L73.1 405.2 L73.2 405.2 L73.2 404.3 L73.4 404.3 L73.4 403.3 L73.5 403.3 L73.5 402.4 L74.0 402.4 L74.0 401.5 L74.0 401.5 L74.0 400.6 L74.1 400.6 L74.1 399.7 L74.2 399.7 L74.2 398.8 L74.6 398.8 L74.6 398.0 L74.5 398.0 L74.5 397.1 L74.6 397.1 L74.6 396.2 L74.8 396.2 L74.8 395.3 L75.1 395.3 L75.1 394.4 L75.1 394.4 L75.1 393.5 L76.1 393.5 L76.1 392.6 L76.4 392.6 L76.4 391.8 L76.7 391.8 L76.7 390.9 L76.7 390.9 L76.7 390.0 L77.3 390.0 L77.3 389.1 L77.2 389.1 L77.2 388.2 L77.6 388.2 L77.6 387.3 L78.0 387.3 L78.0 386.5 L78.0 386.5 L78.0 385.6 L78.3 385.6 L78.3 384.7 L78.6 384.7 L78.6 383.8 L78.8 383.8 L78.8 382.9 L79.3 382.9 L79.3 382.0 L79.8 382.0 L79.8 381.1 L80.0 381.1 L80.0 380.3 L80.4 380.3 L80.4 379.4 L80.4 379.4 L80.4 378.5 L80.7 378.5 L80.7 377.6 L81.0 377.6 L81.0 376.7 L81.3 376.7 L81.3 375.8 L82.0 375.8 L82.0 374.9 L82.3 374.9 L82.3 374.0 L82.7 374.0 L82.7 373.1 L83.0 373.1 L83.0 372.3 L83.6 372.3 L83.6 371.4 L83.8 371.4 L83.8 370.5 L84.1 370.5 L84.1 369.6 L85.0 369.6 L85.0 368.7 L84.9 368.7 L84.9 367.8 L85.3 367.8 L85.3 366.9 L85.6 366.9 L85.6 366.0 L86.0 366.0 L86.0 365.1 L86.4 365.1 L86.4 364.3 L86.5 364.3 L86.5 363.4 L86.7 363.4 L86.7 362.5 L86.9 362.5 L86.9 361.6 L87.4 361.6 L87.4 360.7 L87.3 360.7 L87.3 359.8 L87.7 359.8 L87.7 358.9 L88.2 358.9 L88.2 358.1 L88.6 358.1 L88.6 357.2 L88.6 357.2 L88.6 356.3 L89.2 356.3 L89.2 355.4 L89.4 355.4 L89.4 354.5 L89.6 354.5 L89.6 353.6 L90.0 353.6 L90.0 352.8 L90.3 352.8 L90.3 351.9 L90.3 351.9 L90.3 351.0 L90.8 351.0 L90.8 350.1 L91.3 350.1 L91.3 349.2 L91.7 349.2 L91.7 348.4 L91.9 348.4 L91.9 347.5 L92.1 347.5 L92.1 346.6 L92.3 346.6 L92.3 345.8 L92.7 345.8 L92.7 344.9 L93.1 344.9 L93.1 344.0 L93.0 344.0 L93.0 343.1 L93.2 343.1 L93.2 342.1 L93.7 342.1 L93.7 341.2 L94.0 341.2 L94.0 340.2 L94.2 340.2 L94.2 339.3 L93.9 339.3 L93.9 338.3 L94.0 338.3 L94.0 337.4 L94.6 337.4 L94.6 336.5 L94.9 336.5 L94.9 335.7 L95.4 335.7 L95.4 334.8 L95.7 334.8 L95.7 333.9 L95.6 333.9 L95.6 333.0 L95.9 333.0 L95.9 332.2 L96.4 332.2 L96.4 331.3 L96.8 331.3 L96.8 330.4 L96.8 330.4 L96.8 329.5 L97.1 329.5 L97.1 328.7 L97.2 328.7 L97.2 327.8 L97.3 327.8 L97.3 326.9 L97.3 326.9 L97.3 326.0 L97.6 326.0 L97.6 325.1 L97.5 325.1 L97.5 324.2 L97.7 324.2 L97.7 323.3 L97.8 323.3 L97.8 322.4 L97.7 322.4 L97.7 321.5 L98.1 321.5 L98.1 320.6 L98.0 320.6 L98.0 319.7 L98.6 319.7 L98.6 318.8 L98.8 318.8 L98.8 317.9 L99.3 317.9 L99.3 317.0 L99.7 317.0 L99.7 316.1 L100.1 316.1 L100.1 315.3 L100.6 315.3 L100.6 314.4 L100.7 314.4 L100.7 313.5 L101.2 313.5 L101.2 312.6 L102.0 312.6 L102.0 311.7 L102.1 311.7 L102.1 310.8 L102.3 310.8 L102.3 309.9 L102.9 309.9 L102.9 309.0 L103.0 309.0 L103.0 308.1 L103.5 308.1 L103.5 307.3 L103.9 307.3 L103.9 306.4 L104.2 306.4 L104.2 305.5 L104.2 305.5 L104.2 304.6 L104.6 304.6 L104.6 303.7 L105.1 303.7 L105.1 302.8 L105.5 302.8 L105.5 302.0 L106.6 302.0 L106.6 301.1 L106.5 301.1 L106.5 300.3 L106.8 300.3 L106.8 299.4 L107.2 299.4 L107.2 298.6 L107.7 298.6 L107.7 297.8 L108.3 297.8 L108.3 296.9 L108.2 297.8 L108.3 297.8 L108.3 298.6 L108.8 298.6 L108.8 299.5 L108.9 299.5 L108.9 300.4 L109.2 300.4 L109.2 301.2 L109.6 301.2 L109.6 302.1 L109.8 302.1 L109.8 303.1 L110.3 303.1 L110.3 304.0 L111.2 304.0 L111.2 305.0 L111.4 305.0 L111.4 305.9 L111.6 305.9 L111.6 306.9 L112.2 306.9 L112.2 305.9 L112.8 305.9 L112.8 305.0 L113.2 305.0 L113.2 304.0 L113.8 304.0 L113.8 303.1 L114.2 303.1 L114.2 302.1 L114.6 302.1 L114.6 301.2 L114.9 301.2 L114.9 300.3 L115.2 300.3 L115.2 299.4 L115.5 299.4 L115.5 298.5 L116.2 298.5 L116.2 297.7 L116.6 297.7 L116.6 296.8 L116.7 296.8 L116.7 295.9 L117.1 295.9 L117.1 295.0 L117.8 295.0 L117.8 294.1 L118.3 294.1 L118.3 293.2 L118.4 293.2 L118.4 292.3 L118.5 292.3 L118.5 291.4 L118.8 291.4 L118.8 290.5 L119.0 290.5 L119.0 289.6 L119.2 289.6 L119.2 288.7 L119.5 288.7 L119.5 287.8 L119.6 287.8 L119.6 286.9 L119.9 286.9 L119.9 286.0 L120.0 286.0 L120.0 285.1 L120.1 285.1 L120.1 284.2 L120.6 284.2 L120.6 283.4 L120.8 283.4 L120.8 282.5 L121.1 282.5 L121.1 281.6 L121.1 281.6 L121.1 280.8 L121.3 280.8 L121.3 279.9 L121.5 279.9 L121.5 279.0 L121.8 279.0 L123.9 279.0 L123.9 279.9 L124.2 279.9 L124.2 280.8 L124.3 280.8 L124.3 281.7 L124.6 281.7 L124.6 282.6 L124.7 282.6 L124.7 283.6 L124.8 283.6 L124.8 284.5 L124.9 284.5 L124.9 285.4 L124.7 285.4 L124.7 286.3 L125.1 286.3 L125.1 287.2 L124.8 287.2 L124.8 288.1 L125.3 288.1 L125.3 289.0 L125.2 289.0 L125.2 289.9 L125.4 289.9 L125.4 290.8 L125.6 290.8 L125.6 291.8 L125.8 291.8 L125.8 292.7 L125.8 292.7 L125.8 293.6 L126.0 293.6 L126.0 294.5 L126.2 294.5 L126.2 295.4 L126.3 295.4 L126.3 296.3 L126.4 296.3 L126.4 297.2 L126.4 297.2 L126.4 298.1 L126.0 298.1 L126.0 299.0 L126.3 299.0 L126.3 299.9 L126.7 299.9 L126.7 300.9 L127.0 300.9 L127.0 301.8 L127.0 301.8 L127.0 302.7 L127.3 302.7 L127.3 303.6 L127.2 303.6 L127.2 304.5 L127.2 304.5 L127.2 305.4 L127.3 305.4 L127.3 306.3 L127.7 306.3 L127.7 307.2 L127.9 307.2 L127.9 308.1 L128.3 308.1 L128.3 309.0 L128.3 309.0 L128.3 309.9 L128.6 309.9 L128.6 310.8 L128.9 310.8 L128.9 311.7 L128.8 311.7 L128.8 312.6 L129.1 312.6 L129.1 313.5 L129.3 313.5 L129.3 314.4 L129.4 314.4 L129.4 315.3 L129.7 315.3 L129.7 316.1 L130.0 316.1 L130.0 317.0 L129.9 317.0 L129.9 317.9 L130.1 317.9 L130.1 318.8 L130.5 318.8 L130.5 319.7 L130.4 319.7 L130.4 320.6 L130.9 320.6 L130.9 321.5 L131.0 321.5 L131.0 322.4 L131.3 322.4 L131.3 323.3 L131.5 323.3 L131.5 324.2 L131.8 324.2 L131.8 325.1 L132.0 325.1 L132.0 326.0 L132.1 326.0 L132.1 326.9 L132.0 326.9 L132.0 327.8 L132.3 327.8 L132.3 328.7 L132.2 328.7 L132.2 329.6 L132.5 329.6 L132.5 330.5 L132.8 330.5 L132.8 331.4 L132.8 331.4 L132.8 332.2 L132.8 332.2 L132.8 333.1 L133.0 333.1 L133.0 334.0 L132.9 334.0 L132.9 334.9 L132.8 334.9 L132.8 335.8 L132.8 335.8 L132.8 336.7 L133.0 336.7 L133.0 337.6 L133.2 337.6 L133.2 338.5 L133.6 338.5 L133.6 339.4 L133.9 339.4 L133.9 340.4 L134.1 340.4 L134.1 341.3 L134.1 341.3 L134.1 342.2 L133.9 342.2 L133.9 343.1 L134.0 343.1 L134.0 344.0 L134.3 344.0 L134.3 344.9 L134.3 344.9 L134.3 345.8 L134.8 345.8 L134.8 346.6 L135.0 346.6 L135.0 347.5 L135.2 347.5 L135.2 348.4 L134.9 348.4 L134.9 349.2 L134.6 349.2 L134.6 350.1 L134.8 350.1 L134.8 351.0 L135.3 351.0 L135.3 351.9 L135.7 351.9 L135.7 352.8 L136.0 352.8 L136.0 353.7 L136.3 353.7 L136.3 354.6 L136.0 354.6 L136.0 355.4 L136.5 355.4 L136.5 356.3 L136.4 356.3 L136.4 357.2 L136.5 357.2 L136.5 358.1 L136.9 358.1 L136.9 359.0 L137.2 359.0 L137.2 359.9 L137.1 359.9 L137.1 360.8 L137.2 360.8 L137.2 361.6 L137.4 361.6 L137.4 362.5 L137.9 362.5 L137.9 363.4 L138.5 363.4 L138.5 364.3 L138.6 364.3 L138.6 365.2 L138.8 365.2 L138.8 366.1 L139.0 366.1 L139.0 366.9 L138.9 366.9 L138.9 367.8 L139.1 367.8 L139.1 368.7 L139.4 368.7 L139.4 369.6 L139.5 369.6 L139.5 370.4 L139.6 370.4 L139.6 371.3 L140.2 371.3 L140.2 372.2 L140.9 372.2 L140.9 373.1 L141.0 373.1 L141.0 373.9 L141.3 373.9 L141.3 374.8 L141.4 374.8 L141.4 375.7 L141.4 375.7 L141.4 376.6 L141.7 376.6 L141.7 377.4 L141.8 377.4 L141.8 378.3 L142.2 378.3 L142.2 379.2 L142.2 379.2 L142.2 380.1 L142.5 380.1 L142.5 381.0 L142.5 381.0 L142.5 381.9 L142.5 381.9 L142.5 382.7 L142.7 382.7 L142.7 383.6 L142.9 383.6 L142.9 384.5 L143.0 384.5 L143.0 385.4 L143.3 385.4 L143.3 386.3 L143.7 386.3 L143.7 387.2 L143.7 387.2 L143.7 388.1 L144.1 388.1 L144.1 388.9 L144.1 388.9 L144.1 389.8 L144.2 389.8 L144.2 390.7 L144.5 390.7 L144.5 391.6 L144.9 391.6 L144.9 392.5 L144.9 392.5 L144.9 393.4 L145.2 393.4 L145.2 394.2 L145.4 394.2 L145.4 395.1 L145.8 395.1 L145.8 396.0 L145.9 396.0 L145.9 396.9 L145.9 396.9 L145.9 397.8 L146.1 397.8 L146.1 398.7 L146.7 398.7 L146.7 399.6 L146.7 399.6 L146.7 400.4 L147.1 400.4 L147.1 401.3 L147.5 401.3 L147.5 402.2 L147.8 402.2 L147.8 403.1 L147.7 403.1 L147.7 404.0 L148.0 404.0 L148.0 404.9 L148.4 404.9 L148.4 405.7 L148.5 405.7 L148.5 406.6 L148.5 406.6 L148.5 407.4 L148.4 407.4 L148.4 408.3 L149.1 408.3 L149.1 409.1 L149.1 409.1 L149.1 410.0 L148.8 410.0 Z" fill="#0066ff" stroke="#9fd8a0" stroke-width="0.8" stroke-opacity="0.28" stroke-linejoin="round"/>
</g></g>
<clipPath id="ce"><rect x="198.0" y="279.6" width="157.0" height="129.7"/></clipPath>
<g clip-path="url(#ce)"><g filter="url(#nzBot)">
<rect x="196.0" y="277.6" width="161.0" height="133.7" fill="#0066ff"/>
<path d="M196.0 304.0 L197.2 304.6 L197.2 305.4 L198.2 305.4 L198.2 306.2 L199.5 306.2 L199.5 307.1 L199.7 307.1 L199.7 307.9 L199.7 307.9 L199.7 308.8 L200.0 308.8 L200.0 309.7 L200.1 309.7 L200.1 310.5 L200.6 310.5 L200.6 311.4 L200.7 311.4 L200.7 312.3 L200.9 312.3 L200.9 313.2 L200.9 313.2 L200.9 314.0 L201.5 314.0 L201.5 314.9 L201.7 314.9 L201.7 315.8 L201.6 315.8 L201.6 316.6 L201.8 316.6 L201.8 317.5 L202.0 317.5 L202.0 318.4 L202.3 318.4 L202.3 319.2 L202.9 319.2 L202.9 320.1 L203.0 320.1 L203.0 321.0 L203.3 321.0 L203.3 321.9 L203.4 321.9 L203.4 322.7 L203.3 322.7 L203.3 323.6 L203.6 323.6 L203.6 322.8 L204.2 322.8 L204.2 321.9 L204.6 321.9 L204.6 321.1 L205.1 321.1 L205.1 320.2 L205.6 320.2 L205.6 319.4 L205.8 319.4 L205.8 318.5 L206.4 318.5 L206.4 317.7 L207.0 317.7 L207.0 316.8 L207.2 316.8 L207.2 316.0 L208.0 316.0 L208.0 315.2 L208.5 315.2 L208.5 314.3 L209.3 314.3 L209.3 313.5 L209.7 313.5 L209.7 312.7 L210.3 312.7 L210.3 311.8 L210.8 311.8 L210.8 311.0 L211.1 311.0 L211.1 310.1 L211.0 310.1 L211.0 309.3 L211.5 309.3 L211.5 308.4 L211.5 308.4 L211.5 307.6 L211.8 307.6 L211.8 306.7 L212.4 306.7 L212.4 305.9 L212.3 305.9 L212.3 305.0 L212.4 305.0 L212.4 304.2 L212.9 304.2 L212.9 303.4 L213.1 303.4 L213.1 304.1 L213.6 304.1 L213.6 304.8 L214.2 304.8 L214.2 305.7 L214.4 305.7 L214.4 306.6 L214.9 306.6 L214.9 307.5 L214.8 307.5 L214.8 308.4 L215.0 308.4 L215.0 309.3 L215.1 309.3 L215.1 310.2 L215.4 310.2 L215.4 311.0 L215.6 311.0 L215.6 311.9 L215.7 311.9 L215.7 312.8 L215.8 312.8 L215.8 313.6 L215.8 313.6 L215.8 314.5 L215.8 314.5 L215.8 315.4 L216.1 315.4 L216.1 316.2 L216.5 316.2 L216.5 317.1 L216.8 317.1 L216.8 318.0 L216.8 318.0 L216.8 318.8 L216.8 318.8 L216.8 319.7 L216.9 319.7 L216.9 320.6 L217.2 320.6 L217.2 321.5 L217.3 321.5 L217.3 322.3 L217.5 322.3 L217.5 323.2 L217.7 323.2 L217.7 324.1 L217.7 324.1 L217.7 325.0 L218.3 325.0 L218.3 325.9 L218.5 325.9 L218.5 326.8 L218.6 326.8 L218.6 327.6 L218.7 327.6 L218.7 328.5 L219.2 328.5 L219.2 329.4 L219.6 329.4 L219.6 330.3 L219.9 330.3 L219.9 331.2 L220.1 331.2 L220.1 332.1 L220.5 332.1 L220.5 333.0 L220.8 333.0 L220.8 333.8 L220.9 333.8 L220.9 334.7 L220.9 334.7 L220.9 335.6 L221.1 335.6 L221.1 336.5 L221.3 336.5 L221.3 337.4 L221.9 337.4 L221.9 338.3 L222.1 338.3 L222.1 339.3 L222.5 339.3 L222.5 340.2 L223.1 340.2 L223.1 341.2 L223.4 341.2 L223.4 342.1 L223.6 342.1 L223.6 343.1 L223.9 343.1 L223.9 344.0 L224.4 344.0 L224.4 344.9 L224.6 344.9 L224.6 345.7 L224.8 345.7 L224.8 346.6 L225.2 346.6 L225.2 347.4 L225.3 347.4 L225.3 348.3 L225.5 348.3 L225.5 349.2 L226.0 349.2 L226.0 350.0 L226.2 350.0 L226.2 350.9 L226.3 350.9 L226.3 351.7 L226.5 351.7 L226.5 352.6 L227.3 352.6 L227.3 353.5 L227.2 353.5 L227.2 354.3 L227.6 354.3 L227.6 355.2 L227.5 355.2 L227.5 356.1 L227.6 356.1 L227.6 356.9 L227.8 356.9 L227.8 357.8 L228.0 357.8 L228.0 358.7 L228.2 358.7 L228.2 359.6 L228.4 359.6 L228.4 360.4 L228.8 360.4 L228.8 361.3 L229.3 361.3 L229.3 362.2 L228.9 362.2 L228.9 363.0 L229.6 363.0 L229.6 363.9 L229.6 363.9 L229.6 364.8 L230.0 364.8 L230.0 365.6 L229.9 365.6 L229.9 366.5 L230.1 366.5 L230.1 367.4 L230.6 367.4 L230.6 368.3 L230.8 368.3 L230.8 369.1 L230.7 369.1 L230.7 370.0 L231.3 370.0 L231.3 370.9 L231.7 370.9 L231.7 371.8 L231.8 371.8 L231.8 372.6 L232.1 372.6 L232.1 373.5 L232.1 373.5 L232.1 374.4 L232.2 374.4 L232.2 375.2 L232.4 375.2 L232.4 376.1 L232.5 376.1 L232.5 377.0 L232.9 377.0 L232.9 377.9 L233.4 377.9 L233.4 378.7 L233.2 378.7 L233.2 379.6 L233.7 379.6 L233.7 380.5 L234.3 380.5 L234.3 381.4 L233.9 381.4 L233.9 382.2 L234.3 382.2 L234.3 383.1 L234.5 383.1 L234.5 384.0 L234.5 384.0 L234.5 384.8 L234.7 384.8 L234.7 385.7 L234.9 385.7 L234.9 386.6 L234.8 386.6 L234.8 387.4 L234.8 387.4 L234.8 388.3 L234.9 388.3 L234.9 389.2 L235.2 389.2 L235.2 390.1 L235.4 390.1 L235.4 390.9 L235.6 390.9 L235.6 391.8 L235.8 391.8 L235.8 392.7 L235.7 392.7 L235.7 393.5 L235.7 393.5 L235.7 394.4 L236.2 394.4 L236.2 395.3 L236.1 395.3 L236.1 396.2 L236.2 396.2 L236.2 397.1 L236.8 397.1 L236.8 398.0 L237.2 398.0 L237.2 398.8 L237.4 398.8 L237.4 399.7 L237.3 399.7 L237.3 400.6 L237.8 400.6 L237.8 401.5 L238.1 401.5 L238.1 402.4 L238.1 402.4 L238.1 403.3 L238.6 403.3 L238.6 404.3 L238.9 404.3 L238.9 405.2 L238.9 405.2 L238.9 406.2 L238.9 406.2 L238.9 407.1 L239.4 407.1 L239.4 408.1 L239.7 408.1 L239.7 409.1 L239.6 409.1 L239.6 410.0 L239.9 410.0 L196.0 411.0 Z" fill="none" stroke="#ffd000" stroke-width="1.9" stroke-opacity="0.28" stroke-linejoin="round"/>
<path d="M196.0 304.0 L197.2 304.6 L197.2 305.4 L198.2 305.4 L198.2 306.2 L199.5 306.2 L199.5 307.1 L199.7 307.1 L199.7 307.9 L199.7 307.9 L199.7 308.8 L200.0 308.8 L200.0 309.7 L200.1 309.7 L200.1 310.5 L200.6 310.5 L200.6 311.4 L200.7 311.4 L200.7 312.3 L200.9 312.3 L200.9 313.2 L200.9 313.2 L200.9 314.0 L201.5 314.0 L201.5 314.9 L201.7 314.9 L201.7 315.8 L201.6 315.8 L201.6 316.6 L201.8 316.6 L201.8 317.5 L202.0 317.5 L202.0 318.4 L202.3 318.4 L202.3 319.2 L202.9 319.2 L202.9 320.1 L203.0 320.1 L203.0 321.0 L203.3 321.0 L203.3 321.9 L203.4 321.9 L203.4 322.7 L203.3 322.7 L203.3 323.6 L203.6 323.6 L203.6 322.8 L204.2 322.8 L204.2 321.9 L204.6 321.9 L204.6 321.1 L205.1 321.1 L205.1 320.2 L205.6 320.2 L205.6 319.4 L205.8 319.4 L205.8 318.5 L206.4 318.5 L206.4 317.7 L207.0 317.7 L207.0 316.8 L207.2 316.8 L207.2 316.0 L208.0 316.0 L208.0 315.2 L208.5 315.2 L208.5 314.3 L209.3 314.3 L209.3 313.5 L209.7 313.5 L209.7 312.7 L210.3 312.7 L210.3 311.8 L210.8 311.8 L210.8 311.0 L211.1 311.0 L211.1 310.1 L211.0 310.1 L211.0 309.3 L211.5 309.3 L211.5 308.4 L211.5 308.4 L211.5 307.6 L211.8 307.6 L211.8 306.7 L212.4 306.7 L212.4 305.9 L212.3 305.9 L212.3 305.0 L212.4 305.0 L212.4 304.2 L212.9 304.2 L212.9 303.4 L213.1 303.4 L213.1 304.1 L213.6 304.1 L213.6 304.8 L214.2 304.8 L214.2 305.7 L214.4 305.7 L214.4 306.6 L214.9 306.6 L214.9 307.5 L214.8 307.5 L214.8 308.4 L215.0 308.4 L215.0 309.3 L215.1 309.3 L215.1 310.2 L215.4 310.2 L215.4 311.0 L215.6 311.0 L215.6 311.9 L215.7 311.9 L215.7 312.8 L215.8 312.8 L215.8 313.6 L215.8 313.6 L215.8 314.5 L215.8 314.5 L215.8 315.4 L216.1 315.4 L216.1 316.2 L216.5 316.2 L216.5 317.1 L216.8 317.1 L216.8 318.0 L216.8 318.0 L216.8 318.8 L216.8 318.8 L216.8 319.7 L216.9 319.7 L216.9 320.6 L217.2 320.6 L217.2 321.5 L217.3 321.5 L217.3 322.3 L217.5 322.3 L217.5 323.2 L217.7 323.2 L217.7 324.1 L217.7 324.1 L217.7 325.0 L218.3 325.0 L218.3 325.9 L218.5 325.9 L218.5 326.8 L218.6 326.8 L218.6 327.6 L218.7 327.6 L218.7 328.5 L219.2 328.5 L219.2 329.4 L219.6 329.4 L219.6 330.3 L219.9 330.3 L219.9 331.2 L220.1 331.2 L220.1 332.1 L220.5 332.1 L220.5 333.0 L220.8 333.0 L220.8 333.8 L220.9 333.8 L220.9 334.7 L220.9 334.7 L220.9 335.6 L221.1 335.6 L221.1 336.5 L221.3 336.5 L221.3 337.4 L221.9 337.4 L221.9 338.3 L222.1 338.3 L222.1 339.3 L222.5 339.3 L222.5 340.2 L223.1 340.2 L223.1 341.2 L223.4 341.2 L223.4 342.1 L223.6 342.1 L223.6 343.1 L223.9 343.1 L223.9 344.0 L224.4 344.0 L224.4 344.9 L224.6 344.9 L224.6 345.7 L224.8 345.7 L224.8 346.6 L225.2 346.6 L225.2 347.4 L225.3 347.4 L225.3 348.3 L225.5 348.3 L225.5 349.2 L226.0 349.2 L226.0 350.0 L226.2 350.0 L226.2 350.9 L226.3 350.9 L226.3 351.7 L226.5 351.7 L226.5 352.6 L227.3 352.6 L227.3 353.5 L227.2 353.5 L227.2 354.3 L227.6 354.3 L227.6 355.2 L227.5 355.2 L227.5 356.1 L227.6 356.1 L227.6 356.9 L227.8 356.9 L227.8 357.8 L228.0 357.8 L228.0 358.7 L228.2 358.7 L228.2 359.6 L228.4 359.6 L228.4 360.4 L228.8 360.4 L228.8 361.3 L229.3 361.3 L229.3 362.2 L228.9 362.2 L228.9 363.0 L229.6 363.0 L229.6 363.9 L229.6 363.9 L229.6 364.8 L230.0 364.8 L230.0 365.6 L229.9 365.6 L229.9 366.5 L230.1 366.5 L230.1 367.4 L230.6 367.4 L230.6 368.3 L230.8 368.3 L230.8 369.1 L230.7 369.1 L230.7 370.0 L231.3 370.0 L231.3 370.9 L231.7 370.9 L231.7 371.8 L231.8 371.8 L231.8 372.6 L232.1 372.6 L232.1 373.5 L232.1 373.5 L232.1 374.4 L232.2 374.4 L232.2 375.2 L232.4 375.2 L232.4 376.1 L232.5 376.1 L232.5 377.0 L232.9 377.0 L232.9 377.9 L233.4 377.9 L233.4 378.7 L233.2 378.7 L233.2 379.6 L233.7 379.6 L233.7 380.5 L234.3 380.5 L234.3 381.4 L233.9 381.4 L233.9 382.2 L234.3 382.2 L234.3 383.1 L234.5 383.1 L234.5 384.0 L234.5 384.0 L234.5 384.8 L234.7 384.8 L234.7 385.7 L234.9 385.7 L234.9 386.6 L234.8 386.6 L234.8 387.4 L234.8 387.4 L234.8 388.3 L234.9 388.3 L234.9 389.2 L235.2 389.2 L235.2 390.1 L235.4 390.1 L235.4 390.9 L235.6 390.9 L235.6 391.8 L235.8 391.8 L235.8 392.7 L235.7 392.7 L235.7 393.5 L235.7 393.5 L235.7 394.4 L236.2 394.4 L236.2 395.3 L236.1 395.3 L236.1 396.2 L236.2 396.2 L236.2 397.1 L236.8 397.1 L236.8 398.0 L237.2 398.0 L237.2 398.8 L237.4 398.8 L237.4 399.7 L237.3 399.7 L237.3 400.6 L237.8 400.6 L237.8 401.5 L238.1 401.5 L238.1 402.4 L238.1 402.4 L238.1 403.3 L238.6 403.3 L238.6 404.3 L238.9 404.3 L238.9 405.2 L238.9 405.2 L238.9 406.2 L238.9 406.2 L238.9 407.1 L239.4 407.1 L239.4 408.1 L239.7 408.1 L239.7 409.1 L239.6 409.1 L239.6 410.0 L239.9 410.0 L196.0 411.0 Z" fill="#ff1e00" stroke="#9fd8a0" stroke-width="0.8" stroke-opacity="0.28" stroke-linejoin="round"/>
<path d="M357.0 304.0 L355.8 304.0 L355.8 304.9 L355.4 304.9 L355.4 305.7 L354.9 305.7 L354.9 306.6 L354.6 306.6 L354.6 307.5 L354.1 307.5 L354.1 308.4 L354.0 308.4 L354.0 309.4 L353.5 309.4 L353.5 310.3 L353.0 310.3 L353.0 311.2 L352.5 311.2 L352.5 312.1 L352.2 312.1 L352.2 313.1 L352.3 313.1 L352.3 314.0 L351.8 314.0 L351.8 314.9 L351.3 314.9 L351.3 315.8 L351.1 315.8 L351.1 316.7 L350.5 316.7 L350.5 317.6 L350.1 317.6 L350.1 318.5 L349.9 318.5 L349.9 319.4 L349.5 319.4 L349.5 320.4 L349.3 320.4 L349.3 321.3 L349.1 321.3 L349.1 322.2 L348.7 322.2 L348.7 323.1 L348.5 323.1 L348.5 324.0 L347.9 324.0 L347.9 324.9 L347.4 324.9 L347.4 325.7 L347.7 325.7 L347.7 326.6 L347.4 326.6 L347.4 327.4 L346.8 327.4 L346.8 328.3 L346.1 328.3 L346.1 329.1 L346.3 329.1 L346.3 330.0 L346.0 330.0 L346.0 330.9 L346.5 330.9 L346.5 331.8 L346.2 331.8 L346.2 332.7 L345.7 332.7 L345.7 333.6 L345.4 333.6 L345.4 334.5 L345.5 334.5 L345.5 335.4 L345.2 335.4 L345.2 336.3 L345.1 336.3 L345.1 337.2 L345.0 337.2 L345.0 338.2 L345.0 338.2 L345.0 339.1 L344.7 339.1 L344.7 340.0 L344.6 340.0 L344.6 340.9 L344.1 340.9 L344.1 341.8 L344.1 341.8 L344.1 342.7 L343.9 342.7 L343.9 343.6 L343.6 343.6 L343.6 344.5 L343.5 344.5 L343.5 345.4 L343.1 345.4 L343.1 346.3 L342.8 346.3 L342.8 347.2 L342.5 347.2 L342.5 348.1 L342.0 348.1 L342.0 349.0 L341.7 349.0 L341.7 349.9 L341.6 349.9 L341.6 350.8 L341.0 350.8 L341.0 351.7 L340.7 351.7 L340.7 352.6 L340.4 352.6 L340.4 353.5 L340.5 353.5 L340.5 354.4 L340.0 354.4 L340.0 355.3 L339.4 355.3 L339.4 356.2 L339.2 356.2 L339.2 357.1 L338.4 357.1 L338.4 358.0 L338.2 358.0 L338.2 358.9 L338.0 358.9 L338.0 359.8 L337.6 359.8 L337.6 360.7 L337.2 360.7 L337.2 361.6 L336.8 361.6 L336.8 362.4 L336.7 362.4 L336.7 363.3 L336.2 363.3 L336.2 364.2 L335.9 364.2 L335.9 365.1 L335.7 365.1 L335.7 365.9 L335.4 365.9 L335.4 366.8 L335.1 366.8 L335.1 367.7 L334.9 367.7 L334.9 368.6 L334.3 368.6 L334.3 369.4 L334.2 369.4 L334.2 370.3 L333.7 370.3 L333.7 371.2 L333.6 371.2 L333.6 372.0 L333.1 372.0 L333.1 372.9 L332.7 372.9 L332.7 373.8 L332.3 373.8 L332.3 374.7 L332.0 374.7 L332.0 375.5 L331.9 375.5 L331.9 376.4 L332.1 376.4 L332.1 377.3 L331.5 377.3 L331.5 378.2 L331.3 378.2 L331.3 379.0 L331.0 379.0 L331.0 379.9 L330.5 379.9 L330.5 380.8 L330.1 380.8 L330.1 381.7 L330.2 381.7 L330.2 382.6 L329.7 382.6 L329.7 383.5 L329.7 383.5 L329.7 384.3 L329.2 384.3 L329.2 385.2 L328.7 385.2 L328.7 386.1 L328.4 386.1 L328.4 387.0 L328.5 387.0 L328.5 387.9 L328.5 387.9 L328.5 388.8 L328.1 388.8 L328.1 389.7 L327.6 389.7 L327.6 390.6 L327.1 390.6 L327.1 391.5 L327.3 391.5 L327.3 392.4 L327.0 392.4 L327.0 393.3 L326.8 393.3 L326.8 394.2 L326.5 394.2 L326.5 395.1 L326.1 395.1 L326.1 396.0 L325.7 396.0 L325.7 396.9 L325.3 396.9 L325.3 397.8 L325.2 397.8 L325.2 398.7 L325.1 398.7 L325.1 399.6 L324.6 399.6 L324.6 400.4 L324.2 400.4 L324.2 401.3 L323.9 401.3 L323.9 402.2 L324.0 402.2 L324.0 403.1 L323.9 403.1 L323.9 404.0 L323.3 404.0 L323.3 404.9 L323.0 404.9 L323.0 405.7 L322.8 405.7 L322.8 406.6 L322.5 406.6 L322.5 407.4 L322.1 407.4 L322.1 408.3 L322.2 408.3 L322.2 409.1 L322.0 409.1 L322.0 410.0 L321.6 410.0 L357.0 411.0 Z" fill="none" stroke="#ffd000" stroke-width="1.9" stroke-opacity="0.28" stroke-linejoin="round"/>
<path d="M357.0 304.0 L355.8 304.0 L355.8 304.9 L355.4 304.9 L355.4 305.7 L354.9 305.7 L354.9 306.6 L354.6 306.6 L354.6 307.5 L354.1 307.5 L354.1 308.4 L354.0 308.4 L354.0 309.4 L353.5 309.4 L353.5 310.3 L353.0 310.3 L353.0 311.2 L352.5 311.2 L352.5 312.1 L352.2 312.1 L352.2 313.1 L352.3 313.1 L352.3 314.0 L351.8 314.0 L351.8 314.9 L351.3 314.9 L351.3 315.8 L351.1 315.8 L351.1 316.7 L350.5 316.7 L350.5 317.6 L350.1 317.6 L350.1 318.5 L349.9 318.5 L349.9 319.4 L349.5 319.4 L349.5 320.4 L349.3 320.4 L349.3 321.3 L349.1 321.3 L349.1 322.2 L348.7 322.2 L348.7 323.1 L348.5 323.1 L348.5 324.0 L347.9 324.0 L347.9 324.9 L347.4 324.9 L347.4 325.7 L347.7 325.7 L347.7 326.6 L347.4 326.6 L347.4 327.4 L346.8 327.4 L346.8 328.3 L346.1 328.3 L346.1 329.1 L346.3 329.1 L346.3 330.0 L346.0 330.0 L346.0 330.9 L346.5 330.9 L346.5 331.8 L346.2 331.8 L346.2 332.7 L345.7 332.7 L345.7 333.6 L345.4 333.6 L345.4 334.5 L345.5 334.5 L345.5 335.4 L345.2 335.4 L345.2 336.3 L345.1 336.3 L345.1 337.2 L345.0 337.2 L345.0 338.2 L345.0 338.2 L345.0 339.1 L344.7 339.1 L344.7 340.0 L344.6 340.0 L344.6 340.9 L344.1 340.9 L344.1 341.8 L344.1 341.8 L344.1 342.7 L343.9 342.7 L343.9 343.6 L343.6 343.6 L343.6 344.5 L343.5 344.5 L343.5 345.4 L343.1 345.4 L343.1 346.3 L342.8 346.3 L342.8 347.2 L342.5 347.2 L342.5 348.1 L342.0 348.1 L342.0 349.0 L341.7 349.0 L341.7 349.9 L341.6 349.9 L341.6 350.8 L341.0 350.8 L341.0 351.7 L340.7 351.7 L340.7 352.6 L340.4 352.6 L340.4 353.5 L340.5 353.5 L340.5 354.4 L340.0 354.4 L340.0 355.3 L339.4 355.3 L339.4 356.2 L339.2 356.2 L339.2 357.1 L338.4 357.1 L338.4 358.0 L338.2 358.0 L338.2 358.9 L338.0 358.9 L338.0 359.8 L337.6 359.8 L337.6 360.7 L337.2 360.7 L337.2 361.6 L336.8 361.6 L336.8 362.4 L336.7 362.4 L336.7 363.3 L336.2 363.3 L336.2 364.2 L335.9 364.2 L335.9 365.1 L335.7 365.1 L335.7 365.9 L335.4 365.9 L335.4 366.8 L335.1 366.8 L335.1 367.7 L334.9 367.7 L334.9 368.6 L334.3 368.6 L334.3 369.4 L334.2 369.4 L334.2 370.3 L333.7 370.3 L333.7 371.2 L333.6 371.2 L333.6 372.0 L333.1 372.0 L333.1 372.9 L332.7 372.9 L332.7 373.8 L332.3 373.8 L332.3 374.7 L332.0 374.7 L332.0 375.5 L331.9 375.5 L331.9 376.4 L332.1 376.4 L332.1 377.3 L331.5 377.3 L331.5 378.2 L331.3 378.2 L331.3 379.0 L331.0 379.0 L331.0 379.9 L330.5 379.9 L330.5 380.8 L330.1 380.8 L330.1 381.7 L330.2 381.7 L330.2 382.6 L329.7 382.6 L329.7 383.5 L329.7 383.5 L329.7 384.3 L329.2 384.3 L329.2 385.2 L328.7 385.2 L328.7 386.1 L328.4 386.1 L328.4 387.0 L328.5 387.0 L328.5 387.9 L328.5 387.9 L328.5 388.8 L328.1 388.8 L328.1 389.7 L327.6 389.7 L327.6 390.6 L327.1 390.6 L327.1 391.5 L327.3 391.5 L327.3 392.4 L327.0 392.4 L327.0 393.3 L326.8 393.3 L326.8 394.2 L326.5 394.2 L326.5 395.1 L326.1 395.1 L326.1 396.0 L325.7 396.0 L325.7 396.9 L325.3 396.9 L325.3 397.8 L325.2 397.8 L325.2 398.7 L325.1 398.7 L325.1 399.6 L324.6 399.6 L324.6 400.4 L324.2 400.4 L324.2 401.3 L323.9 401.3 L323.9 402.2 L324.0 402.2 L324.0 403.1 L323.9 403.1 L323.9 404.0 L323.3 404.0 L323.3 404.9 L323.0 404.9 L323.0 405.7 L322.8 405.7 L322.8 406.6 L322.5 406.6 L322.5 407.4 L322.1 407.4 L322.1 408.3 L322.2 408.3 L322.2 409.1 L322.0 409.1 L322.0 410.0 L321.6 410.0 L357.0 411.0 Z" fill="#ff1e00" stroke="#9fd8a0" stroke-width="0.8" stroke-opacity="0.28" stroke-linejoin="round"/>
</g></g>
<line x1="68.38" y1="179.30" x2="68.38" y2="177.50" stroke="#111" stroke-width="0.9"/>
<line x1="68.38" y1="49.60" x2="68.38" y2="51.40" stroke="#111" stroke-width="0.9"/>
<line x1="107.75" y1="179.30" x2="107.75" y2="177.50" stroke="#111" stroke-width="0.9"/>
<line x1="107.75" y1="49.60" x2="107.75" y2="51.40" stroke="#111" stroke-width="0.9"/>
<line x1="147.12" y1="179.30" x2="147.12" y2="177.50" stroke="#111" stroke-width="0.9"/>
<line x1="147.12" y1="49.60" x2="147.12" y2="51.40" stroke="#111" stroke-width="0.9"/>
<line x1="29.00" y1="82.03" x2="30.80" y2="82.03" stroke="#111" stroke-width="0.9"/>
<line x1="186.50" y1="82.03" x2="184.70" y2="82.03" stroke="#111" stroke-width="0.9"/>
<line x1="29.00" y1="114.45" x2="30.80" y2="114.45" stroke="#111" stroke-width="0.9"/>
<line x1="186.50" y1="114.45" x2="184.70" y2="114.45" stroke="#111" stroke-width="0.9"/>
<line x1="29.00" y1="146.88" x2="30.80" y2="146.88" stroke="#111" stroke-width="0.9"/>
<line x1="186.50" y1="146.88" x2="184.70" y2="146.88" stroke="#111" stroke-width="0.9"/>
<rect x="29.0" y="49.6" width="157.5" height="129.70000000000002" fill="none" stroke="#1c1c1c" stroke-width="1.1"/>
<line x1="107.75" y1="409.30" x2="107.75" y2="407.50" stroke="#111" stroke-width="0.9"/>
<line x1="107.75" y1="279.60" x2="107.75" y2="281.40" stroke="#111" stroke-width="0.9"/>
<line x1="29.00" y1="312.03" x2="30.80" y2="312.03" stroke="#111" stroke-width="0.9"/>
<line x1="186.50" y1="312.03" x2="184.70" y2="312.03" stroke="#111" stroke-width="0.9"/>
<line x1="29.00" y1="344.45" x2="30.80" y2="344.45" stroke="#111" stroke-width="0.9"/>
<line x1="186.50" y1="344.45" x2="184.70" y2="344.45" stroke="#111" stroke-width="0.9"/>
<line x1="29.00" y1="376.88" x2="30.80" y2="376.88" stroke="#111" stroke-width="0.9"/>
<line x1="186.50" y1="376.88" x2="184.70" y2="376.88" stroke="#111" stroke-width="0.9"/>
<rect x="29.0" y="279.6" width="157.5" height="129.7" fill="none" stroke="#1c1c1c" stroke-width="1.1"/>
<line x1="237.25" y1="179.30" x2="237.25" y2="177.50" stroke="#111" stroke-width="0.9"/>
<line x1="237.25" y1="49.60" x2="237.25" y2="51.40" stroke="#111" stroke-width="0.9"/>
<line x1="276.50" y1="179.30" x2="276.50" y2="177.50" stroke="#111" stroke-width="0.9"/>
<line x1="276.50" y1="49.60" x2="276.50" y2="51.40" stroke="#111" stroke-width="0.9"/>
<line x1="315.75" y1="179.30" x2="315.75" y2="177.50" stroke="#111" stroke-width="0.9"/>
<line x1="315.75" y1="49.60" x2="315.75" y2="51.40" stroke="#111" stroke-width="0.9"/>
<line x1="198.00" y1="82.03" x2="199.80" y2="82.03" stroke="#111" stroke-width="0.9"/>
<line x1="355.00" y1="82.03" x2="353.20" y2="82.03" stroke="#111" stroke-width="0.9"/>
<line x1="198.00" y1="114.45" x2="199.80" y2="114.45" stroke="#111" stroke-width="0.9"/>
<line x1="355.00" y1="114.45" x2="353.20" y2="114.45" stroke="#111" stroke-width="0.9"/>
<line x1="198.00" y1="146.88" x2="199.80" y2="146.88" stroke="#111" stroke-width="0.9"/>
<line x1="355.00" y1="146.88" x2="353.20" y2="146.88" stroke="#111" stroke-width="0.9"/>
<rect x="198.0" y="49.6" width="157.0" height="129.70000000000002" fill="none" stroke="#1c1c1c" stroke-width="1.1"/>
<line x1="276.50" y1="409.30" x2="276.50" y2="407.50" stroke="#111" stroke-width="0.9"/>
<line x1="276.50" y1="279.60" x2="276.50" y2="281.40" stroke="#111" stroke-width="0.9"/>
<line x1="198.00" y1="312.03" x2="199.80" y2="312.03" stroke="#111" stroke-width="0.9"/>
<line x1="355.00" y1="312.03" x2="353.20" y2="312.03" stroke="#111" stroke-width="0.9"/>
<line x1="198.00" y1="344.45" x2="199.80" y2="344.45" stroke="#111" stroke-width="0.9"/>
<line x1="355.00" y1="344.45" x2="353.20" y2="344.45" stroke="#111" stroke-width="0.9"/>
<line x1="198.00" y1="376.88" x2="199.80" y2="376.88" stroke="#111" stroke-width="0.9"/>
<line x1="355.00" y1="376.88" x2="353.20" y2="376.88" stroke="#111" stroke-width="0.9"/>
<rect x="198.0" y="279.6" width="157.0" height="129.7" fill="none" stroke="#1c1c1c" stroke-width="1.1"/>
<rect x="122.5" y="50.2" width="63.9" height="23.8" fill="#fff" fill-opacity="0.996" stroke="#1c1c1c" stroke-width="1"/>
<text transform="translate(127.58 67.17) scale(1.1357 1)" font-size="16.41" font-style="italic" fill="#000" stroke="#fff" stroke-width="0.45">β</text>
<line x1="143.00" y1="61.90" x2="154.40" y2="61.90" stroke="#000" stroke-width="0.9"/>
<line x1="143.00" y1="65.10" x2="154.40" y2="65.10" stroke="#000" stroke-width="0.9"/>
<line x1="162.10" y1="63.40" x2="172.80" y2="63.40" stroke="#000" stroke-width="0.9"/>
<text transform="translate(173.54 67.60) scale(1.0694 1)" font-size="17.12" fill="#000" stroke="#fff" stroke-width="0.16">1</text>
<rect x="298.6" y="50.2" width="56.8" height="23.8" fill="#fff" fill-opacity="0.996" stroke="#1c1c1c" stroke-width="1"/>
<text transform="translate(307.77 67.17) scale(1.1121 1)" font-size="16.41" font-style="italic" fill="#000" stroke="#fff" stroke-width="0.45">β</text>
<line x1="323.20" y1="61.90" x2="335.40" y2="61.90" stroke="#000" stroke-width="0.9"/>
<line x1="323.20" y1="65.10" x2="335.40" y2="65.10" stroke="#000" stroke-width="0.9"/>
<text transform="translate(340.89 67.60) scale(0.9707 1)" font-size="17.12" fill="#000" stroke="#fff" stroke-width="0.16">1</text>
<rect x="122.5" y="280.2" width="63.9" height="23.8" fill="#fff" fill-opacity="0.996" stroke="#1c1c1c" stroke-width="1"/>
<text transform="translate(127.58 297.17) scale(1.1357 1)" font-size="16.41" font-style="italic" fill="#000" stroke="#fff" stroke-width="0.45">β</text>
<line x1="143.00" y1="291.90" x2="154.40" y2="291.90" stroke="#000" stroke-width="0.9"/>
<line x1="143.00" y1="295.10" x2="154.40" y2="295.10" stroke="#000" stroke-width="0.9"/>
<line x1="162.10" y1="293.40" x2="172.80" y2="293.40" stroke="#000" stroke-width="0.9"/>
<text transform="translate(173.54 297.60) scale(1.0694 1)" font-size="17.12" fill="#000" stroke="#fff" stroke-width="0.16">1</text>
<rect x="298.6" y="280.2" width="56.8" height="23.8" fill="#fff" fill-opacity="0.996" stroke="#1c1c1c" stroke-width="1"/>
<text transform="translate(307.77 297.17) scale(1.1121 1)" font-size="16.41" font-style="italic" fill="#000" stroke="#fff" stroke-width="0.45">β</text>
<line x1="323.20" y1="291.90" x2="335.40" y2="291.90" stroke="#000" stroke-width="0.9"/>
<line x1="323.20" y1="295.10" x2="335.40" y2="295.10" stroke="#000" stroke-width="0.9"/>
<text transform="translate(340.89 297.60) scale(0.9707 1)" font-size="17.12" fill="#000" stroke="#fff" stroke-width="0.16">1</text>
<text transform="translate(24.27 32.30) scale(1.0537 1)" font-size="19.40" fill="#8c0a10">Simulation</text>
<text transform="translate(120.55 32.30) scale(1.2567 1)" font-size="19.40" fill="#8c0a10">at</text>
<text transform="translate(145.19 32.30) scale(1.0410 1)" font-size="19.40" font-style="italic" fill="#8c0a10">α</text>
<line x1="164.00" y1="25.75" x2="176.80" y2="25.75" stroke="#8c0a10" stroke-width="1.0"/>
<line x1="164.00" y1="29.65" x2="176.80" y2="29.65" stroke="#8c0a10" stroke-width="1.0"/>
<text transform="translate(182.36 32.30) scale(1.0537 1)" font-size="19.40" fill="#8c0a10">1.8</text>
<text transform="translate(214.29 32.30) scale(1.0383 1)" font-size="19.40" fill="#8c0a10">and</text>
<text transform="translate(252.41 32.30) scale(1.1025 1)" font-size="19.40" font-style="italic" fill="#8c0a10">D</text>
<line x1="274.00" y1="25.75" x2="287.40" y2="25.75" stroke="#8c0a10" stroke-width="1.0"/>
<line x1="274.00" y1="29.65" x2="287.40" y2="29.65" stroke="#8c0a10" stroke-width="1.0"/>
<text transform="translate(293.23 32.30) scale(1.0134 1)" font-size="19.40" fill="#8c0a10">10</text>
<line x1="314.10" y1="19.60" x2="323.00" y2="19.60" stroke="#8c0a10" stroke-width="1.0"/>
<text transform="translate(324.16 24.36) scale(1.2064 1)" font-size="13.58" fill="#8c0a10">3</text>
<text transform="translate(24.65 263.70) scale(1.0599 1)" font-size="17.30" fill="#1a1ae8">Experiment</text>
<text transform="translate(117.46 263.70) scale(1.2236 1)" font-size="17.30" fill="#1a1ae8">at</text>
<text transform="translate(139.31 263.70) scale(1.1447 1)" font-size="17.30" font-style="italic" fill="#1a1ae8">α</text>
<line x1="155.90" y1="257.60" x2="167.70" y2="257.60" stroke="#1a1ae8" stroke-width="1.0"/>
<line x1="155.90" y1="261.00" x2="167.70" y2="261.00" stroke="#1a1ae8" stroke-width="1.0"/>
<text transform="translate(173.05 263.70) scale(1.0538 1)" font-size="17.30" fill="#1a1ae8">1.8</text>
<text transform="translate(200.95 263.70) scale(1.0735 1)" font-size="17.30" fill="#1a1ae8">and</text>
<text transform="translate(235.91 263.70) scale(1.2042 1)" font-size="17.30" font-style="italic" fill="#1a1ae8">D</text>
<line x1="255.90" y1="257.60" x2="267.80" y2="257.60" stroke="#1a1ae8" stroke-width="1.0"/>
<line x1="255.90" y1="261.00" x2="267.80" y2="261.00" stroke="#1a1ae8" stroke-width="1.0"/>
<text transform="translate(272.55 263.70) scale(0.9889 1)" font-size="17.30" fill="#1a1ae8">1.43</text>
<line x1="309.40" y1="254.80" x2="317.80" y2="263.00" stroke="#1a1ae8" stroke-width="1.0"/>
<line x1="309.40" y1="263.00" x2="317.80" y2="254.80" stroke="#1a1ae8" stroke-width="1.0"/>
<text transform="translate(324.61 263.70) scale(1.0116 1)" font-size="17.30" fill="#1a1ae8">10</text>
<line x1="343.40" y1="253.30" x2="350.90" y2="253.30" stroke="#1a1ae8" stroke-width="1.0"/>
<text transform="translate(352.46 256.60) scale(1.0272 1)" font-size="11.52" fill="#1a1ae8">4</text>
<text transform="translate(6.39 54.92) scale(0.9889 1)" font-size="17.93" fill="#000" stroke="#fff" stroke-width="0.16">10</text>
<text transform="translate(23.80 48.26) scale(0.9652 1)" font-size="13.73" fill="#000" stroke="#fff" stroke-width="0.16">3</text>
<text transform="translate(15.12 187.12) scale(1.0858 1)" font-size="17.78" fill="#000" stroke="#fff" stroke-width="0.16">0</text>
<text transform="translate(13.30 176.27) rotate(-90) scale(1.0501 1)" font-size="18.20" fill="#000" stroke="#fff" stroke-width="0.16">discrete</text>
<text transform="translate(13.30 113.10) rotate(-90) scale(1.0767 1)" font-size="18.20" fill="#000" stroke="#fff" stroke-width="0.16">time</text>
<text transform="translate(13.30 73.87) rotate(-90) scale(1.2153 1)" font-size="18.20" font-style="italic" fill="#000" stroke="#fff" stroke-width="0.16">n</text>
<text transform="translate(27.13 195.52) scale(1.0727 1)" font-size="17.78" fill="#000" stroke="#fff" stroke-width="0.16">0</text>
<text transform="translate(82.47 194.80) scale(1.0556 1)" font-size="17.40" fill="#000" stroke="#fff" stroke-width="0.16">space</text>
<text transform="translate(128.89 194.97) scale(0.9589 1)" font-size="17.81" font-style="italic" fill="#000" stroke="#fff" stroke-width="0.16">q</text>
<text transform="translate(181.09 194.97) scale(1.1363 1)" font-size="17.81" font-style="italic" fill="#000" stroke="#fff" stroke-width="0.16">η</text>
<text transform="translate(197.73 195.52) scale(1.0727 1)" font-size="17.78" fill="#000" stroke="#fff" stroke-width="0.16">0</text>
<text transform="translate(252.87 194.80) scale(1.0449 1)" font-size="17.40" fill="#000" stroke="#fff" stroke-width="0.16">space</text>
<text transform="translate(299.31 194.97) scale(0.9085 1)" font-size="17.81" font-style="italic" fill="#000" stroke="#fff" stroke-width="0.16">q</text>
<text transform="translate(351.69 194.97) scale(1.1363 1)" font-size="17.81" font-style="italic" fill="#000" stroke="#fff" stroke-width="0.16">η</text>
<text transform="translate(97.12 216.62) scale(0.8871 1)" font-size="19.45" fill="#000" stroke="#fff" stroke-width="0.16">(</text>
<text transform="translate(112.96 216.62) scale(0.9294 1)" font-size="19.45" fill="#000" stroke="#fff" stroke-width="0.16">)</text>
<text transform="translate(264.92 216.62) scale(0.8871 1)" font-size="19.45" fill="#000" stroke="#fff" stroke-width="0.16">(</text>
<text transform="translate(278.99 216.62) scale(0.8701 1)" font-size="19.45" fill="#000" stroke="#fff" stroke-width="0.16">)</text>
<text transform="translate(6.39 284.92) scale(0.9889 1)" font-size="17.93" fill="#000" stroke="#fff" stroke-width="0.16">10</text>
<text transform="translate(23.80 278.26) scale(0.9652 1)" font-size="13.73" fill="#000" stroke="#fff" stroke-width="0.16">3</text>
<text transform="translate(15.12 417.12) scale(1.0858 1)" font-size="17.78" fill="#000" stroke="#fff" stroke-width="0.16">0</text>
<text transform="translate(13.30 406.27) rotate(-90) scale(1.0501 1)" font-size="18.20" fill="#000" stroke="#fff" stroke-width="0.16">discrete</text>
<text transform="translate(13.30 343.10) rotate(-90) scale(1.0767 1)" font-size="18.20" fill="#000" stroke="#fff" stroke-width="0.16">time</text>
<text transform="translate(13.30 303.87) rotate(-90) scale(1.2153 1)" font-size="18.20" font-style="italic" fill="#000" stroke="#fff" stroke-width="0.16">n</text>
<text transform="translate(27.13 426.22) scale(1.0727 1)" font-size="17.78" fill="#000" stroke="#fff" stroke-width="0.16">0</text>
<text transform="translate(82.47 425.50) scale(1.0556 1)" font-size="17.40" fill="#000" stroke="#fff" stroke-width="0.16">space</text>
<text transform="translate(128.89 425.67) scale(0.9589 1)" font-size="17.81" font-style="italic" fill="#000" stroke="#fff" stroke-width="0.16">q</text>
<text transform="translate(181.09 425.67) scale(1.1363 1)" font-size="17.81" font-style="italic" fill="#000" stroke="#fff" stroke-width="0.16">η</text>
<text transform="translate(197.73 426.22) scale(1.0727 1)" font-size="17.78" fill="#000" stroke="#fff" stroke-width="0.16">0</text>
<text transform="translate(252.87 425.50) scale(1.0449 1)" font-size="17.40" fill="#000" stroke="#fff" stroke-width="0.16">space</text>
<text transform="translate(299.31 425.67) scale(0.9085 1)" font-size="17.81" font-style="italic" fill="#000" stroke="#fff" stroke-width="0.16">q</text>
<text transform="translate(351.69 425.67) scale(1.1363 1)" font-size="17.81" font-style="italic" fill="#000" stroke="#fff" stroke-width="0.16">η</text>
<text transform="translate(97.12 447.32) scale(0.8871 1)" font-size="19.45" fill="#000" stroke="#fff" stroke-width="0.16">(</text>
<text transform="translate(112.96 447.32) scale(0.9294 1)" font-size="19.45" fill="#000" stroke="#fff" stroke-width="0.16">)</text>
<text transform="translate(264.92 447.32) scale(0.8871 1)" font-size="19.45" fill="#000" stroke="#fff" stroke-width="0.16">(</text>
<text transform="translate(278.99 447.32) scale(0.8701 1)" font-size="19.45" fill="#000" stroke="#fff" stroke-width="0.16">)</text>
<text transform="translate(103.31 216.23) scale(1.1573 1)" font-size="17.08" font-style="italic" fill="#000" stroke="#fff" stroke-width="0.16">a</text>
<text transform="translate(271.47 216.23) scale(0.9065 1)" font-size="16.74" font-style="italic" fill="#000" stroke="#fff" stroke-width="0.16">b</text>
<text transform="translate(103.01 446.93) scale(1.1823 1)" font-size="16.74" font-style="italic" fill="#000" stroke="#fff" stroke-width="0.16">d</text>
<text transform="translate(271.07 446.93) scale(1.0374 1)" font-size="17.08" font-style="italic" fill="#000" stroke="#fff" stroke-width="0.16">e</text>
<line x1="413.00" y1="49.90" x2="413.00" y2="179.40" stroke="#5a5a5a" stroke-width="1.6"/>
<line x1="412.20" y1="179.40" x2="570.40" y2="179.40" stroke="#4a4a4a" stroke-width="1.3"/>
<line x1="569.90" y1="49.90" x2="569.90" y2="179.40" stroke="#2a2a2a" stroke-width="1.0"/>
<line x1="412.20" y1="49.90" x2="570.40" y2="49.90" stroke="#4a4a4a" stroke-width="1.2"/>
<line x1="444.38" y1="179.40" x2="444.38" y2="177.60" stroke="#222" stroke-width="0.9"/>
<line x1="444.38" y1="49.90" x2="444.38" y2="51.70" stroke="#222" stroke-width="0.9"/>
<line x1="475.76" y1="179.40" x2="475.76" y2="177.60" stroke="#222" stroke-width="0.9"/>
<line x1="475.76" y1="49.90" x2="475.76" y2="51.70" stroke="#222" stroke-width="0.9"/>
<line x1="507.14" y1="179.40" x2="507.14" y2="177.60" stroke="#222" stroke-width="0.9"/>
<line x1="507.14" y1="49.90" x2="507.14" y2="51.70" stroke="#222" stroke-width="0.9"/>
<line x1="538.52" y1="179.40" x2="538.52" y2="177.60" stroke="#222" stroke-width="0.9"/>
<line x1="538.52" y1="49.90" x2="538.52" y2="51.70" stroke="#222" stroke-width="0.9"/>
<line x1="413.00" y1="82.28" x2="414.80" y2="82.28" stroke="#222" stroke-width="0.9"/>
<line x1="569.90" y1="82.28" x2="568.10" y2="82.28" stroke="#222" stroke-width="0.9"/>
<line x1="413.00" y1="114.65" x2="414.80" y2="114.65" stroke="#222" stroke-width="0.9"/>
<line x1="569.90" y1="114.65" x2="568.10" y2="114.65" stroke="#222" stroke-width="0.9"/>
<line x1="413.00" y1="147.03" x2="414.80" y2="147.03" stroke="#222" stroke-width="0.9"/>
<line x1="569.90" y1="147.03" x2="568.10" y2="147.03" stroke="#222" stroke-width="0.9"/>
<line x1="416.20" y1="114.70" x2="425.50" y2="114.70" stroke="#111" stroke-width="1.9"/>
<line x1="431.65" y1="114.70" x2="440.95" y2="114.70" stroke="#111" stroke-width="1.9"/>
<line x1="447.10" y1="114.70" x2="456.40" y2="114.70" stroke="#111" stroke-width="1.9"/>
<line x1="462.55" y1="114.70" x2="471.85" y2="114.70" stroke="#111" stroke-width="1.9"/>
<line x1="478.00" y1="114.70" x2="487.30" y2="114.70" stroke="#111" stroke-width="1.9"/>
<line x1="493.45" y1="114.70" x2="502.75" y2="114.70" stroke="#111" stroke-width="1.9"/>
<line x1="508.90" y1="114.70" x2="518.20" y2="114.70" stroke="#111" stroke-width="1.9"/>
<line x1="524.35" y1="114.70" x2="533.65" y2="114.70" stroke="#111" stroke-width="1.9"/>
<line x1="539.80" y1="114.70" x2="549.10" y2="114.70" stroke="#111" stroke-width="1.9"/>
<line x1="555.25" y1="114.70" x2="564.55" y2="114.70" stroke="#111" stroke-width="1.9"/>
<polyline points="414.90,114.40 421.50,113.90 428.20,113.70 436.70,113.70 444.40,113.60 452.70,113.40 459.10,112.50 467.90,111.40 477.40,112.40 485.30,110.70 493.80,110.70 500.80,107.70 511.20,107.70 520.50,102.80 530.40,102.80 538.10,98.10 547.30,97.60 555.50,99.00 562.90,96.00 569.70,96.00" fill="none" stroke="#ff2a00" stroke-width="2.0" stroke-linejoin="round"/>
<circle cx="414.90" cy="114.40" r="2.2" fill="#fff" stroke="#ff2a00" stroke-width="1.9"/>
<circle cx="421.50" cy="113.90" r="2.2" fill="#fff" stroke="#ff2a00" stroke-width="1.9"/>
<circle cx="428.20" cy="113.70" r="2.2" fill="#fff" stroke="#ff2a00" stroke-width="1.9"/>
<circle cx="436.70" cy="113.70" r="2.2" fill="#fff" stroke="#ff2a00" stroke-width="1.9"/>
<circle cx="444.40" cy="113.60" r="2.2" fill="#fff" stroke="#ff2a00" stroke-width="1.9"/>
<circle cx="452.70" cy="113.40" r="2.2" fill="#fff" stroke="#ff2a00" stroke-width="1.9"/>
<circle cx="459.10" cy="112.50" r="2.2" fill="#fff" stroke="#ff2a00" stroke-width="1.9"/>
<circle cx="467.90" cy="111.40" r="2.2" fill="#fff" stroke="#ff2a00" stroke-width="1.9"/>
<circle cx="477.40" cy="112.40" r="2.2" fill="#fff" stroke="#ff2a00" stroke-width="1.9"/>
<circle cx="485.30" cy="110.70" r="2.2" fill="#fff" stroke="#ff2a00" stroke-width="1.9"/>
<circle cx="493.80" cy="110.70" r="2.2" fill="#fff" stroke="#ff2a00" stroke-width="1.9"/>
<circle cx="500.80" cy="107.70" r="2.2" fill="#fff" stroke="#ff2a00" stroke-width="1.9"/>
<circle cx="511.20" cy="107.70" r="2.2" fill="#fff" stroke="#ff2a00" stroke-width="1.9"/>
<circle cx="520.50" cy="102.80" r="2.2" fill="#fff" stroke="#ff2a00" stroke-width="1.9"/>
<circle cx="530.40" cy="102.80" r="2.2" fill="#fff" stroke="#ff2a00" stroke-width="1.9"/>
<circle cx="538.10" cy="98.10" r="2.2" fill="#fff" stroke="#ff2a00" stroke-width="1.9"/>
<circle cx="547.30" cy="97.60" r="2.2" fill="#fff" stroke="#ff2a00" stroke-width="1.9"/>
<circle cx="555.50" cy="99.00" r="2.2" fill="#fff" stroke="#ff2a00" stroke-width="1.9"/>
<circle cx="562.90" cy="96.00" r="2.2" fill="#fff" stroke="#ff2a00" stroke-width="1.9"/>
<circle cx="569.70" cy="96.00" r="2.2" fill="#fff" stroke="#ff2a00" stroke-width="1.9"/>
<polyline points="414.90,114.20 421.50,112.90 428.20,112.30 436.70,112.30 444.40,111.00 452.70,109.20 459.10,106.50 466.90,105.30 477.90,104.80 485.30,103.20 493.80,102.90 499.80,96.50 511.40,94.80 518.00,91.30 524.90,83.10 533.10,78.70 540.90,76.10 547.80,76.40 555.50,74.40 563.20,73.40 570.00,70.00" fill="none" stroke="#ff2a00" stroke-width="2.0" stroke-linejoin="round"/>
<rect x="412.80" y="112.10" width="4.2" height="4.2" fill="#fff" stroke="#ff2a00" stroke-width="1.9"/>
<rect x="419.40" y="110.80" width="4.2" height="4.2" fill="#fff" stroke="#ff2a00" stroke-width="1.9"/>
<rect x="426.10" y="110.20" width="4.2" height="4.2" fill="#fff" stroke="#ff2a00" stroke-width="1.9"/>
<rect x="434.60" y="110.20" width="4.2" height="4.2" fill="#fff" stroke="#ff2a00" stroke-width="1.9"/>
<rect x="442.30" y="108.90" width="4.2" height="4.2" fill="#fff" stroke="#ff2a00" stroke-width="1.9"/>
<rect x="450.60" y="107.10" width="4.2" height="4.2" fill="#fff" stroke="#ff2a00" stroke-width="1.9"/>
<rect x="457.00" y="104.40" width="4.2" height="4.2" fill="#fff" stroke="#ff2a00" stroke-width="1.9"/>
<rect x="464.80" y="103.20" width="4.2" height="4.2" fill="#fff" stroke="#ff2a00" stroke-width="1.9"/>
<rect x="475.80" y="102.70" width="4.2" height="4.2" fill="#fff" stroke="#ff2a00" stroke-width="1.9"/>
<rect x="483.20" y="101.10" width="4.2" height="4.2" fill="#fff" stroke="#ff2a00" stroke-width="1.9"/>
<rect x="491.70" y="100.80" width="4.2" height="4.2" fill="#fff" stroke="#ff2a00" stroke-width="1.9"/>
<rect x="497.70" y="94.40" width="4.2" height="4.2" fill="#fff" stroke="#ff2a00" stroke-width="1.9"/>
<rect x="509.30" y="92.70" width="4.2" height="4.2" fill="#fff" stroke="#ff2a00" stroke-width="1.9"/>
<rect x="515.90" y="89.20" width="4.2" height="4.2" fill="#fff" stroke="#ff2a00" stroke-width="1.9"/>
<rect x="522.80" y="81.00" width="4.2" height="4.2" fill="#fff" stroke="#ff2a00" stroke-width="1.9"/>
<rect x="531.00" y="76.60" width="4.2" height="4.2" fill="#fff" stroke="#ff2a00" stroke-width="1.9"/>
<rect x="538.80" y="74.00" width="4.2" height="4.2" fill="#fff" stroke="#ff2a00" stroke-width="1.9"/>
<rect x="545.70" y="74.30" width="4.2" height="4.2" fill="#fff" stroke="#ff2a00" stroke-width="1.9"/>
<rect x="553.40" y="72.30" width="4.2" height="4.2" fill="#fff" stroke="#ff2a00" stroke-width="1.9"/>
<rect x="561.10" y="71.30" width="4.2" height="4.2" fill="#fff" stroke="#ff2a00" stroke-width="1.9"/>
<rect x="567.90" y="67.90" width="4.2" height="4.2" fill="#fff" stroke="#ff2a00" stroke-width="1.9"/>
<polyline points="415.10,115.00 422.10,116.20 428.80,116.40 435.60,116.80 443.80,117.60 453.10,119.30 459.60,118.10 467.90,118.90 477.10,119.40 484.90,119.60 493.30,122.60 500.60,124.30 508.20,123.80 516.00,125.10 525.40,131.90 534.10,131.70 541.20,133.90 548.60,133.70 555.80,137.40 562.90,133.70 570.00,133.90" fill="none" stroke="#0050dc" stroke-width="2.0" stroke-linejoin="round"/>
<circle cx="415.10" cy="115.00" r="2.2" fill="#fff" stroke="#0050dc" stroke-width="1.9"/>
<circle cx="422.10" cy="116.20" r="2.2" fill="#fff" stroke="#0050dc" stroke-width="1.9"/>
<circle cx="428.80" cy="116.40" r="2.2" fill="#fff" stroke="#0050dc" stroke-width="1.9"/>
<circle cx="435.60" cy="116.80" r="2.2" fill="#fff" stroke="#0050dc" stroke-width="1.9"/>
<circle cx="443.80" cy="117.60" r="2.2" fill="#fff" stroke="#0050dc" stroke-width="1.9"/>
<circle cx="453.10" cy="119.30" r="2.2" fill="#fff" stroke="#0050dc" stroke-width="1.9"/>
<circle cx="459.60" cy="118.10" r="2.2" fill="#fff" stroke="#0050dc" stroke-width="1.9"/>
<circle cx="467.90" cy="118.90" r="2.2" fill="#fff" stroke="#0050dc" stroke-width="1.9"/>
<circle cx="477.10" cy="119.40" r="2.2" fill="#fff" stroke="#0050dc" stroke-width="1.9"/>
<circle cx="484.90" cy="119.60" r="2.2" fill="#fff" stroke="#0050dc" stroke-width="1.9"/>
<circle cx="493.30" cy="122.60" r="2.2" fill="#fff" stroke="#0050dc" stroke-width="1.9"/>
<circle cx="500.60" cy="124.30" r="2.2" fill="#fff" stroke="#0050dc" stroke-width="1.9"/>
<circle cx="508.20" cy="123.80" r="2.2" fill="#fff" stroke="#0050dc" stroke-width="1.9"/>
<circle cx="516.00" cy="125.10" r="2.2" fill="#fff" stroke="#0050dc" stroke-width="1.9"/>
<circle cx="525.40" cy="131.90" r="2.2" fill="#fff" stroke="#0050dc" stroke-width="1.9"/>
<circle cx="534.10" cy="131.70" r="2.2" fill="#fff" stroke="#0050dc" stroke-width="1.9"/>
<circle cx="541.20" cy="133.90" r="2.2" fill="#fff" stroke="#0050dc" stroke-width="1.9"/>
<circle cx="548.60" cy="133.70" r="2.2" fill="#fff" stroke="#0050dc" stroke-width="1.9"/>
<circle cx="555.80" cy="137.40" r="2.2" fill="#fff" stroke="#0050dc" stroke-width="1.9"/>
<circle cx="562.90" cy="133.70" r="2.2" fill="#fff" stroke="#0050dc" stroke-width="1.9"/>
<circle cx="570.00" cy="133.90" r="2.2" fill="#fff" stroke="#0050dc" stroke-width="1.9"/>
<polyline points="415.10,115.20 422.10,117.10 428.80,116.90 435.60,117.60 443.80,119.90 453.10,122.90 459.60,122.90 467.90,124.90 476.80,124.80 484.60,126.70 493.30,129.40 500.60,132.30 507.70,133.30 515.00,138.90 523.40,146.80 531.90,150.60 539.70,153.80 546.30,153.30 554.30,158.80 562.20,156.80 570.00,159.80" fill="none" stroke="#0050dc" stroke-width="2.0" stroke-linejoin="round"/>
<rect x="413.00" y="113.10" width="4.2" height="4.2" fill="#fff" stroke="#0050dc" stroke-width="1.9"/>
<rect x="420.00" y="115.00" width="4.2" height="4.2" fill="#fff" stroke="#0050dc" stroke-width="1.9"/>
<rect x="426.70" y="114.80" width="4.2" height="4.2" fill="#fff" stroke="#0050dc" stroke-width="1.9"/>
<rect x="433.50" y="115.50" width="4.2" height="4.2" fill="#fff" stroke="#0050dc" stroke-width="1.9"/>
<rect x="441.70" y="117.80" width="4.2" height="4.2" fill="#fff" stroke="#0050dc" stroke-width="1.9"/>
<rect x="451.00" y="120.80" width="4.2" height="4.2" fill="#fff" stroke="#0050dc" stroke-width="1.9"/>
<rect x="457.50" y="120.80" width="4.2" height="4.2" fill="#fff" stroke="#0050dc" stroke-width="1.9"/>
<rect x="465.80" y="122.80" width="4.2" height="4.2" fill="#fff" stroke="#0050dc" stroke-width="1.9"/>
<rect x="474.70" y="122.70" width="4.2" height="4.2" fill="#fff" stroke="#0050dc" stroke-width="1.9"/>
<rect x="482.50" y="124.60" width="4.2" height="4.2" fill="#fff" stroke="#0050dc" stroke-width="1.9"/>
<rect x="491.20" y="127.30" width="4.2" height="4.2" fill="#fff" stroke="#0050dc" stroke-width="1.9"/>
<rect x="498.50" y="130.20" width="4.2" height="4.2" fill="#fff" stroke="#0050dc" stroke-width="1.9"/>
<rect x="505.60" y="131.20" width="4.2" height="4.2" fill="#fff" stroke="#0050dc" stroke-width="1.9"/>
<rect x="512.90" y="136.80" width="4.2" height="4.2" fill="#fff" stroke="#0050dc" stroke-width="1.9"/>
<rect x="521.30" y="144.70" width="4.2" height="4.2" fill="#fff" stroke="#0050dc" stroke-width="1.9"/>
<rect x="529.80" y="148.50" width="4.2" height="4.2" fill="#fff" stroke="#0050dc" stroke-width="1.9"/>
<rect x="537.60" y="151.70" width="4.2" height="4.2" fill="#fff" stroke="#0050dc" stroke-width="1.9"/>
<rect x="544.20" y="151.20" width="4.2" height="4.2" fill="#fff" stroke="#0050dc" stroke-width="1.9"/>
<rect x="552.20" y="156.70" width="4.2" height="4.2" fill="#fff" stroke="#0050dc" stroke-width="1.9"/>
<rect x="560.10" y="154.70" width="4.2" height="4.2" fill="#fff" stroke="#0050dc" stroke-width="1.9"/>
<rect x="567.90" y="157.70" width="4.2" height="4.2" fill="#fff" stroke="#0050dc" stroke-width="1.9"/>
<line x1="413.00" y1="281.20" x2="413.00" y2="410.10" stroke="#5a5a5a" stroke-width="1.6"/>
<line x1="412.20" y1="410.10" x2="570.40" y2="410.10" stroke="#4a4a4a" stroke-width="1.3"/>
<line x1="569.90" y1="281.20" x2="569.90" y2="410.10" stroke="#2a2a2a" stroke-width="1.0"/>
<line x1="412.20" y1="281.20" x2="570.40" y2="281.20" stroke="#4a4a4a" stroke-width="1.2"/>
<line x1="444.38" y1="410.10" x2="444.38" y2="408.30" stroke="#222" stroke-width="0.9"/>
<line x1="444.38" y1="281.20" x2="444.38" y2="283.00" stroke="#222" stroke-width="0.9"/>
<line x1="475.76" y1="410.10" x2="475.76" y2="408.30" stroke="#222" stroke-width="0.9"/>
<line x1="475.76" y1="281.20" x2="475.76" y2="283.00" stroke="#222" stroke-width="0.9"/>
<line x1="507.14" y1="410.10" x2="507.14" y2="408.30" stroke="#222" stroke-width="0.9"/>
<line x1="507.14" y1="281.20" x2="507.14" y2="283.00" stroke="#222" stroke-width="0.9"/>
<line x1="538.52" y1="410.10" x2="538.52" y2="408.30" stroke="#222" stroke-width="0.9"/>
<line x1="538.52" y1="281.20" x2="538.52" y2="283.00" stroke="#222" stroke-width="0.9"/>
<line x1="413.00" y1="313.43" x2="414.80" y2="313.43" stroke="#222" stroke-width="0.9"/>
<line x1="569.90" y1="313.43" x2="568.10" y2="313.43" stroke="#222" stroke-width="0.9"/>
<line x1="413.00" y1="345.65" x2="414.80" y2="345.65" stroke="#222" stroke-width="0.9"/>
<line x1="569.90" y1="345.65" x2="568.10" y2="345.65" stroke="#222" stroke-width="0.9"/>
<line x1="413.00" y1="377.88" x2="414.80" y2="377.88" stroke="#222" stroke-width="0.9"/>
<line x1="569.90" y1="377.88" x2="568.10" y2="377.88" stroke="#222" stroke-width="0.9"/>
<line x1="417.90" y1="345.60" x2="427.20" y2="345.60" stroke="#111" stroke-width="1.9"/>
<line x1="433.35" y1="345.60" x2="442.65" y2="345.60" stroke="#111" stroke-width="1.9"/>
<line x1="448.80" y1="345.60" x2="458.10" y2="345.60" stroke="#111" stroke-width="1.9"/>
<line x1="464.25" y1="345.60" x2="473.55" y2="345.60" stroke="#111" stroke-width="1.9"/>
<line x1="479.70" y1="345.60" x2="489.00" y2="345.60" stroke="#111" stroke-width="1.9"/>
<line x1="495.15" y1="345.60" x2="504.45" y2="345.60" stroke="#111" stroke-width="1.9"/>
<line x1="510.60" y1="345.60" x2="519.90" y2="345.60" stroke="#111" stroke-width="1.9"/>
<line x1="526.05" y1="345.60" x2="535.35" y2="345.60" stroke="#111" stroke-width="1.9"/>
<line x1="541.50" y1="345.60" x2="550.80" y2="345.60" stroke="#111" stroke-width="1.9"/>
<line x1="556.95" y1="345.60" x2="566.25" y2="345.60" stroke="#111" stroke-width="1.9"/>
<polyline points="413.00,353.60 416.40,349.30 422.90,344.40 430.40,342.70 437.60,340.70 444.30,338.90 453.80,336.70 464.50,335.70 471.70,333.90 479.10,333.10 487.10,332.10 498.30,330.10 509.30,328.10 520.20,326.50 530.10,325.90 538.90,325.40 547.80,324.90 558.80,323.10 569.20,321.70" fill="none" stroke="#ff2a00" stroke-width="2.0" stroke-linejoin="round"/>
<circle cx="413.00" cy="353.60" r="2.2" fill="#fff" stroke="#ff2a00" stroke-width="1.9"/>
<circle cx="416.40" cy="349.30" r="2.2" fill="#fff" stroke="#ff2a00" stroke-width="1.9"/>
<circle cx="422.90" cy="344.40" r="2.2" fill="#fff" stroke="#ff2a00" stroke-width="1.9"/>
<circle cx="430.40" cy="342.70" r="2.2" fill="#fff" stroke="#ff2a00" stroke-width="1.9"/>
<circle cx="437.60" cy="340.70" r="2.2" fill="#fff" stroke="#ff2a00" stroke-width="1.9"/>
<circle cx="444.30" cy="338.90" r="2.2" fill="#fff" stroke="#ff2a00" stroke-width="1.9"/>
<circle cx="453.80" cy="336.70" r="2.2" fill="#fff" stroke="#ff2a00" stroke-width="1.9"/>
<circle cx="464.50" cy="335.70" r="2.2" fill="#fff" stroke="#ff2a00" stroke-width="1.9"/>
<circle cx="471.70" cy="333.90" r="2.2" fill="#fff" stroke="#ff2a00" stroke-width="1.9"/>
<circle cx="479.10" cy="333.10" r="2.2" fill="#fff" stroke="#ff2a00" stroke-width="1.9"/>
<circle cx="487.10" cy="332.10" r="2.2" fill="#fff" stroke="#ff2a00" stroke-width="1.9"/>
<circle cx="498.30" cy="330.10" r="2.2" fill="#fff" stroke="#ff2a00" stroke-width="1.9"/>
<circle cx="509.30" cy="328.10" r="2.2" fill="#fff" stroke="#ff2a00" stroke-width="1.9"/>
<circle cx="520.20" cy="326.50" r="2.2" fill="#fff" stroke="#ff2a00" stroke-width="1.9"/>
<circle cx="530.10" cy="325.90" r="2.2" fill="#fff" stroke="#ff2a00" stroke-width="1.9"/>
<circle cx="538.90" cy="325.40" r="2.2" fill="#fff" stroke="#ff2a00" stroke-width="1.9"/>
<circle cx="547.80" cy="324.90" r="2.2" fill="#fff" stroke="#ff2a00" stroke-width="1.9"/>
<circle cx="558.80" cy="323.10" r="2.2" fill="#fff" stroke="#ff2a00" stroke-width="1.9"/>
<circle cx="569.20" cy="321.70" r="2.2" fill="#fff" stroke="#ff2a00" stroke-width="1.9"/>
<polyline points="413.00,353.60 413.20,343.40 414.00,337.90 416.90,331.40 421.20,323.50 425.30,315.70 433.10,311.30 438.80,306.90 444.80,298.90 450.60,292.10 457.80,283.00" fill="none" stroke="#ff2a00" stroke-width="2.0" stroke-linejoin="round"/>
<rect x="410.90" y="351.50" width="4.2" height="4.2" fill="#fff" stroke="#ff2a00" stroke-width="1.9"/>
<rect x="411.10" y="341.30" width="4.2" height="4.2" fill="#fff" stroke="#ff2a00" stroke-width="1.9"/>
<rect x="411.90" y="335.80" width="4.2" height="4.2" fill="#fff" stroke="#ff2a00" stroke-width="1.9"/>
<rect x="414.80" y="329.30" width="4.2" height="4.2" fill="#fff" stroke="#ff2a00" stroke-width="1.9"/>
<rect x="419.10" y="321.40" width="4.2" height="4.2" fill="#fff" stroke="#ff2a00" stroke-width="1.9"/>
<rect x="423.20" y="313.60" width="4.2" height="4.2" fill="#fff" stroke="#ff2a00" stroke-width="1.9"/>
<rect x="431.00" y="309.20" width="4.2" height="4.2" fill="#fff" stroke="#ff2a00" stroke-width="1.9"/>
<rect x="436.70" y="304.80" width="4.2" height="4.2" fill="#fff" stroke="#ff2a00" stroke-width="1.9"/>
<rect x="442.70" y="296.80" width="4.2" height="4.2" fill="#fff" stroke="#ff2a00" stroke-width="1.9"/>
<rect x="448.50" y="290.00" width="4.2" height="4.2" fill="#fff" stroke="#ff2a00" stroke-width="1.9"/>
<rect x="455.70" y="280.90" width="4.2" height="4.2" fill="#fff" stroke="#ff2a00" stroke-width="1.9"/>
<polyline points="414.00,362.00 415.70,357.90 422.40,359.40 429.20,360.90 436.00,362.40 443.30,363.90 453.60,366.10 464.20,367.90 471.60,368.70 479.10,370.70 486.70,372.70 495.30,373.70 503.80,374.40 512.20,375.40 521.50,376.40 531.90,377.10 544.40,378.70 555.80,379.40 569.50,380.90" fill="none" stroke="#0050dc" stroke-width="2.0"/>
<circle cx="415.70" cy="357.90" r="2.2" fill="#fff" stroke="#0050dc" stroke-width="1.9"/>
<circle cx="422.40" cy="359.40" r="2.2" fill="#fff" stroke="#0050dc" stroke-width="1.9"/>
<circle cx="429.20" cy="360.90" r="2.2" fill="#fff" stroke="#0050dc" stroke-width="1.9"/>
<circle cx="436.00" cy="362.40" r="2.2" fill="#fff" stroke="#0050dc" stroke-width="1.9"/>
<circle cx="443.30" cy="363.90" r="2.2" fill="#fff" stroke="#0050dc" stroke-width="1.9"/>
<circle cx="453.60" cy="366.10" r="2.2" fill="#fff" stroke="#0050dc" stroke-width="1.9"/>
<circle cx="464.20" cy="367.90" r="2.2" fill="#fff" stroke="#0050dc" stroke-width="1.9"/>
<circle cx="471.60" cy="368.70" r="2.2" fill="#fff" stroke="#0050dc" stroke-width="1.9"/>
<circle cx="479.10" cy="370.70" r="2.2" fill="#fff" stroke="#0050dc" stroke-width="1.9"/>
<circle cx="486.70" cy="372.70" r="2.2" fill="#fff" stroke="#0050dc" stroke-width="1.9"/>
<circle cx="495.30" cy="373.70" r="2.2" fill="#fff" stroke="#0050dc" stroke-width="1.9"/>
<circle cx="503.80" cy="374.40" r="2.2" fill="#fff" stroke="#0050dc" stroke-width="1.9"/>
<circle cx="512.20" cy="375.40" r="2.2" fill="#fff" stroke="#0050dc" stroke-width="1.9"/>
<circle cx="521.50" cy="376.40" r="2.2" fill="#fff" stroke="#0050dc" stroke-width="1.9"/>
<circle cx="531.90" cy="377.10" r="2.2" fill="#fff" stroke="#0050dc" stroke-width="1.9"/>
<circle cx="544.40" cy="378.70" r="2.2" fill="#fff" stroke="#0050dc" stroke-width="1.9"/>
<circle cx="555.80" cy="379.40" r="2.2" fill="#fff" stroke="#0050dc" stroke-width="1.9"/>
<circle cx="569.50" cy="380.90" r="2.2" fill="#fff" stroke="#0050dc" stroke-width="1.9"/>
<polyline points="414.00,362.90 417.90,375.40 421.50,380.70 425.70,382.70 429.30,389.50 435.40,393.90 440.70,399.90 447.30,404.60 455.10,409.50" fill="none" stroke="#0050dc" stroke-width="2.0" stroke-linejoin="round"/>
<rect x="411.90" y="360.80" width="4.2" height="4.2" fill="#fff" stroke="#0050dc" stroke-width="1.9"/>
<rect x="415.80" y="373.30" width="4.2" height="4.2" fill="#fff" stroke="#0050dc" stroke-width="1.9"/>
<rect x="419.40" y="378.60" width="4.2" height="4.2" fill="#fff" stroke="#0050dc" stroke-width="1.9"/>
<rect x="423.60" y="380.60" width="4.2" height="4.2" fill="#fff" stroke="#0050dc" stroke-width="1.9"/>
<rect x="427.20" y="387.40" width="4.2" height="4.2" fill="#fff" stroke="#0050dc" stroke-width="1.9"/>
<rect x="433.30" y="391.80" width="4.2" height="4.2" fill="#fff" stroke="#0050dc" stroke-width="1.9"/>
<rect x="438.60" y="397.80" width="4.2" height="4.2" fill="#fff" stroke="#0050dc" stroke-width="1.9"/>
<rect x="445.20" y="402.50" width="4.2" height="4.2" fill="#fff" stroke="#0050dc" stroke-width="1.9"/>
<rect x="453.00" y="407.40" width="4.2" height="4.2" fill="#fff" stroke="#0050dc" stroke-width="1.9"/>
<rect x="418.4" y="0.0" width="100.0" height="84.6" fill="#fff" fill-opacity="0.996" stroke="none"/>
<line x1="418.40" y1="0.00" x2="418.40" y2="84.60" stroke="#1a1a1a" stroke-width="1.0"/>
<line x1="518.40" y1="0.00" x2="518.40" y2="85.20" stroke="#1a1a1a" stroke-width="1.1"/>
<line x1="417.90" y1="84.60" x2="518.90" y2="84.60" stroke="#333" stroke-width="1.5"/>
<line x1="417.90" y1="0.65" x2="518.90" y2="0.65" stroke="#111" stroke-width="1.3"/>
<line x1="424.20" y1="10.80" x2="441.60" y2="10.80" stroke="#ff2a00" stroke-width="1.9"/>
<rect x="431.30" y="8.70" width="4.2" height="4.2" fill="#fff" stroke="#ff2a00" stroke-width="1.9"/>
<line x1="424.20" y1="26.60" x2="441.60" y2="26.60" stroke="#ff2a00" stroke-width="1.9"/>
<circle cx="433.40" cy="26.60" r="2.2" fill="#fff" stroke="#ff2a00" stroke-width="1.9"/>
<line x1="424.20" y1="58.70" x2="441.60" y2="58.70" stroke="#0050dc" stroke-width="1.9"/>
<circle cx="433.40" cy="58.70" r="2.2" fill="#fff" stroke="#0050dc" stroke-width="1.9"/>
<line x1="424.20" y1="75.00" x2="441.60" y2="75.00" stroke="#0050dc" stroke-width="1.9"/>
<rect x="431.30" y="72.90" width="4.2" height="4.2" fill="#fff" stroke="#0050dc" stroke-width="1.9"/>
<line x1="424.20" y1="42.50" x2="431.50" y2="42.50" stroke="#111" stroke-width="1.9"/>
<line x1="436.50" y1="42.50" x2="445.80" y2="42.50" stroke="#111" stroke-width="1.9"/>
<text transform="translate(445.88 17.05) scale(1.1165 1)" font-size="16.52" font-style="italic" fill="#ff2a1a" stroke="#fff" stroke-width="0.35">β</text>
<line x1="461.60" y1="11.75" x2="473.40" y2="11.75" stroke="#ff2a1a" stroke-width="0.9"/>
<line x1="461.60" y1="15.25" x2="473.40" y2="15.25" stroke="#ff2a1a" stroke-width="0.9"/>
<line x1="480.00" y1="13.30" x2="490.80" y2="13.30" stroke="#ff2a1a" stroke-width="0.9"/>
<text transform="translate(492.34 17.80) scale(0.9777 1)" font-size="17.58" fill="#ff2a1a">1</text>
<text transform="translate(445.88 31.97) scale(1.1239 1)" font-size="16.41" font-style="italic" fill="#ff2a1a" stroke="#fff" stroke-width="0.35">β</text>
<line x1="461.60" y1="26.85" x2="473.40" y2="26.85" stroke="#ff2a1a" stroke-width="0.9"/>
<line x1="461.60" y1="30.35" x2="473.40" y2="30.35" stroke="#ff2a1a" stroke-width="0.9"/>
<line x1="480.00" y1="28.40" x2="490.80" y2="28.40" stroke="#ff2a1a" stroke-width="0.9"/>
<text transform="translate(492.28 32.54) scale(1.0427 1)" font-size="17.06" fill="#ff2a1a">0.5</text>
<polyline points="459.30,38.20 449.00,42.80 459.30,47.30" fill="none" stroke="#111" stroke-width="0.9"/>
<text transform="translate(460.89 47.41) scale(1.1307 1)" font-size="18.51" font-style="italic" fill="#000" stroke="#fff" stroke-width="0.16">v</text>
<polyline points="472.10,38.20 482.40,42.80 472.10,47.30" fill="none" stroke="#111" stroke-width="0.9"/>
<line x1="484.60" y1="40.90" x2="496.30" y2="40.90" stroke="#111" stroke-width="0.9"/>
<line x1="484.60" y1="44.50" x2="496.30" y2="44.50" stroke="#111" stroke-width="0.9"/>
<text transform="translate(501.66 47.72) scale(1.0082 1)" font-size="18.22" fill="#000" stroke="#fff" stroke-width="0.16">0</text>
<text transform="translate(445.47 62.40) scale(1.0556 1)" font-size="16.74" font-style="italic" fill="#0b45c8" stroke="#fff" stroke-width="0.35">β</text>
<line x1="461.20" y1="56.80" x2="473.10" y2="56.80" stroke="#0b45c8" stroke-width="0.9"/>
<line x1="461.20" y1="60.40" x2="473.10" y2="60.40" stroke="#0b45c8" stroke-width="0.9"/>
<text transform="translate(478.58 63.24) scale(1.0031 1)" font-size="17.65" fill="#0b45c8">0.5</text>
<text transform="translate(445.47 79.29) scale(1.0838 1)" font-size="16.30" font-style="italic" fill="#0b45c8" stroke="#fff" stroke-width="0.35">β</text>
<line x1="461.20" y1="73.30" x2="473.10" y2="73.30" stroke="#0b45c8" stroke-width="0.9"/>
<line x1="461.20" y1="76.90" x2="473.10" y2="76.90" stroke="#0b45c8" stroke-width="0.9"/>
<text transform="translate(478.76 80.00) scale(0.9872 1)" font-size="17.12" fill="#0b45c8">1</text>
<rect x="478.4" y="230.0" width="100.0" height="84.60000000000002" fill="#fff" fill-opacity="0.996" stroke="none"/>
<line x1="478.40" y1="230.00" x2="478.40" y2="314.60" stroke="#1a1a1a" stroke-width="1.0"/>
<line x1="578.40" y1="230.00" x2="578.40" y2="315.20" stroke="#1a1a1a" stroke-width="1.1"/>
<line x1="477.90" y1="314.60" x2="578.90" y2="314.60" stroke="#333" stroke-width="1.5"/>
<line x1="477.90" y1="230.55" x2="578.90" y2="230.55" stroke="#111" stroke-width="1.1"/>
<line x1="484.20" y1="240.80" x2="501.60" y2="240.80" stroke="#ff2a00" stroke-width="1.9"/>
<rect x="491.30" y="238.70" width="4.2" height="4.2" fill="#fff" stroke="#ff2a00" stroke-width="1.9"/>
<line x1="484.20" y1="256.60" x2="501.60" y2="256.60" stroke="#ff2a00" stroke-width="1.9"/>
<circle cx="493.40" cy="256.60" r="2.2" fill="#fff" stroke="#ff2a00" stroke-width="1.9"/>
<line x1="484.20" y1="288.70" x2="501.60" y2="288.70" stroke="#0050dc" stroke-width="1.9"/>
<circle cx="493.40" cy="288.70" r="2.2" fill="#fff" stroke="#0050dc" stroke-width="1.9"/>
<line x1="484.20" y1="305.00" x2="501.60" y2="305.00" stroke="#0050dc" stroke-width="1.9"/>
<rect x="491.30" y="302.90" width="4.2" height="4.2" fill="#fff" stroke="#0050dc" stroke-width="1.9"/>
<line x1="484.20" y1="272.50" x2="491.50" y2="272.50" stroke="#111" stroke-width="1.9"/>
<line x1="496.50" y1="272.50" x2="505.80" y2="272.50" stroke="#111" stroke-width="1.9"/>
<text transform="translate(505.88 247.05) scale(1.1165 1)" font-size="16.52" font-style="italic" fill="#ff2a1a" stroke="#fff" stroke-width="0.35">β</text>
<line x1="521.60" y1="241.75" x2="533.40" y2="241.75" stroke="#ff2a1a" stroke-width="0.9"/>
<line x1="521.60" y1="245.25" x2="533.40" y2="245.25" stroke="#ff2a1a" stroke-width="0.9"/>
<line x1="540.00" y1="243.30" x2="550.80" y2="243.30" stroke="#ff2a1a" stroke-width="0.9"/>
<text transform="translate(552.34 247.80) scale(0.9777 1)" font-size="17.58" fill="#ff2a1a">1</text>
<text transform="translate(505.88 261.97) scale(1.1239 1)" font-size="16.41" font-style="italic" fill="#ff2a1a" stroke="#fff" stroke-width="0.35">β</text>
<line x1="521.60" y1="256.85" x2="533.40" y2="256.85" stroke="#ff2a1a" stroke-width="0.9"/>
<line x1="521.60" y1="260.35" x2="533.40" y2="260.35" stroke="#ff2a1a" stroke-width="0.9"/>
<line x1="540.00" y1="258.40" x2="550.80" y2="258.40" stroke="#ff2a1a" stroke-width="0.9"/>
<text transform="translate(552.28 262.54) scale(1.0427 1)" font-size="17.06" fill="#ff2a1a">0.5</text>
<polyline points="519.30,268.20 509.00,272.80 519.30,277.30" fill="none" stroke="#111" stroke-width="0.9"/>
<text transform="translate(520.89 277.41) scale(1.1307 1)" font-size="18.51" font-style="italic" fill="#000" stroke="#fff" stroke-width="0.16">v</text>
<polyline points="532.10,268.20 542.40,272.80 532.10,277.30" fill="none" stroke="#111" stroke-width="0.9"/>
<line x1="544.60" y1="270.90" x2="556.30" y2="270.90" stroke="#111" stroke-width="0.9"/>
<line x1="544.60" y1="274.50" x2="556.30" y2="274.50" stroke="#111" stroke-width="0.9"/>
<text transform="translate(561.66 277.72) scale(1.0082 1)" font-size="18.22" fill="#000" stroke="#fff" stroke-width="0.16">0</text>
<text transform="translate(505.47 292.40) scale(1.0556 1)" font-size="16.74" font-style="italic" fill="#0b45c8" stroke="#fff" stroke-width="0.35">β</text>
<line x1="521.20" y1="286.80" x2="533.10" y2="286.80" stroke="#0b45c8" stroke-width="0.9"/>
<line x1="521.20" y1="290.40" x2="533.10" y2="290.40" stroke="#0b45c8" stroke-width="0.9"/>
<text transform="translate(538.58 293.24) scale(1.0031 1)" font-size="17.65" fill="#0b45c8">0.5</text>
<text transform="translate(505.47 309.29) scale(1.0838 1)" font-size="16.30" font-style="italic" fill="#0b45c8" stroke="#fff" stroke-width="0.35">β</text>
<line x1="521.20" y1="303.30" x2="533.10" y2="303.30" stroke="#0b45c8" stroke-width="0.9"/>
<line x1="521.20" y1="306.90" x2="533.10" y2="306.90" stroke="#0b45c8" stroke-width="0.9"/>
<text transform="translate(538.76 310.00) scale(0.9872 1)" font-size="17.12" fill="#0b45c8">1</text>
<text transform="translate(377.67 54.63) scale(1.0049 1)" font-size="17.94" fill="#000" stroke="#fff" stroke-width="0.16">0.03</text>
<line x1="366.00" y1="177.20" x2="376.00" y2="177.20" stroke="#000" stroke-width="0.9"/>
<text transform="translate(377.27 182.04) scale(1.0183 1)" font-size="17.65" fill="#000" stroke="#fff" stroke-width="0.16">0.03</text>
<text transform="translate(398.70 116.62) scale(1.0976 1)" font-size="18.22" fill="#000" stroke="#fff" stroke-width="0.16">0</text>
<text transform="translate(408.15 195.23) scale(1.0642 1)" font-size="17.48" fill="#000" stroke="#fff" stroke-width="0.16">0</text>
<text transform="translate(439.10 195.40) scale(1.1186 1)" font-size="17.88" fill="#000" stroke="#fff" stroke-width="0.16">2</text>
<text transform="translate(471.06 195.40) scale(0.9623 1)" font-size="17.88" fill="#000" stroke="#fff" stroke-width="0.16">4</text>
<text transform="translate(501.86 195.22) scale(1.0564 1)" font-size="17.61" fill="#000" stroke="#fff" stroke-width="0.16">6</text>
<text transform="translate(533.35 195.23) scale(1.0642 1)" font-size="17.48" fill="#000" stroke="#fff" stroke-width="0.16">8</text>
<text transform="translate(562.00 195.23) scale(1.0076 1)" font-size="17.48" fill="#000" stroke="#fff" stroke-width="0.16">10</text>
<text transform="translate(546.98 202.12) scale(1.0476 1)" font-size="16.97" font-style="italic" fill="#000" stroke="#fff" stroke-width="0.16">D</text>
<text transform="translate(478.82 216.62) scale(0.8871 1)" font-size="19.45" fill="#000" stroke="#fff" stroke-width="0.16">(</text>
<text transform="translate(485.13 216.23) scale(0.9250 1)" font-size="17.08" font-style="italic" fill="#000" stroke="#fff" stroke-width="0.16">c</text>
<text transform="translate(492.39 216.62) scale(0.8701 1)" font-size="19.45" fill="#000" stroke="#fff" stroke-width="0.16">)</text>
<line x1="575.60" y1="166.20" x2="583.80" y2="174.60" stroke="#111" stroke-width="0.9"/>
<line x1="575.60" y1="174.60" x2="583.80" y2="166.20" stroke="#111" stroke-width="0.9"/>
<text transform="translate(585.86 174.93) scale(1.0605 1)" font-size="17.04" fill="#000" stroke="#fff" stroke-width="0.16">10</text>
<line x1="604.50" y1="164.60" x2="613.00" y2="164.60" stroke="#000" stroke-width="0.9"/>
<text transform="translate(614.13 168.00) scale(1.1892 1)" font-size="11.21" fill="#000" stroke="#fff" stroke-width="0.16">4</text>
<line x1="575.60" y1="401.00" x2="583.80" y2="409.40" stroke="#111" stroke-width="0.9"/>
<line x1="575.60" y1="409.40" x2="583.80" y2="401.00" stroke="#111" stroke-width="0.9"/>
<text transform="translate(585.86 409.73) scale(1.0605 1)" font-size="17.04" fill="#000" stroke="#fff" stroke-width="0.16">10</text>
<line x1="604.50" y1="399.40" x2="613.00" y2="399.40" stroke="#000" stroke-width="0.9"/>
<text transform="translate(614.13 402.80) scale(1.1892 1)" font-size="11.21" fill="#000" stroke="#fff" stroke-width="0.16">4</text>
<polyline points="379.60,130.40 384.80,141.00 390.00,130.40" fill="none" stroke="#111" stroke-width="0.9"/>
<text transform="translate(389.82 123.48) rotate(-90) scale(1.0168 1)" font-size="18.30" font-style="italic" fill="#000" stroke="#fff" stroke-width="0.16">v</text>
<text transform="translate(393.19 115.23) rotate(-90) scale(1.2560 1)" font-size="10.60" fill="#000" stroke="#fff" stroke-width="0.16">sim</text>
<polyline points="379.60,88.60 384.80,78.00 390.00,88.60" fill="none" stroke="#111" stroke-width="0.9"/>
<text transform="translate(385.86 284.64) scale(1.0636 1)" font-size="17.06" fill="#000" stroke="#fff" stroke-width="0.16">0.7</text>
<line x1="374.30" y1="411.30" x2="383.60" y2="411.30" stroke="#000" stroke-width="0.9"/>
<text transform="translate(384.95 415.54) scale(1.0933 1)" font-size="17.06" fill="#000" stroke="#fff" stroke-width="0.16">0.7</text>
<text transform="translate(398.83 351.33) scale(1.0909 1)" font-size="17.48" fill="#000" stroke="#fff" stroke-width="0.16">0</text>
<text transform="translate(408.15 429.23) scale(1.0733 1)" font-size="17.33" fill="#000" stroke="#fff" stroke-width="0.16">0</text>
<text transform="translate(440.61 429.40) scale(0.9216 1)" font-size="17.73" fill="#000" stroke="#fff" stroke-width="0.16">1</text>
<text transform="translate(470.50 429.40) scale(1.1282 1)" font-size="17.73" fill="#000" stroke="#fff" stroke-width="0.16">2</text>
<text transform="translate(502.03 429.23) scale(1.1039 1)" font-size="17.46" fill="#000" stroke="#fff" stroke-width="0.16">3</text>
<text transform="translate(533.66 429.40) scale(0.9705 1)" font-size="17.73" fill="#000" stroke="#fff" stroke-width="0.16">4</text>
<text transform="translate(565.01 429.22) scale(1.1227 1)" font-size="17.59" fill="#000" stroke="#fff" stroke-width="0.16">5</text>
<text transform="translate(546.98 436.12) scale(1.0476 1)" font-size="16.97" font-style="italic" fill="#000" stroke="#fff" stroke-width="0.16">D</text>
<text transform="translate(478.26 446.04) scale(0.8516 1)" font-size="19.34" fill="#000" stroke="#fff" stroke-width="0.16">(</text>
<text transform="translate(484.68 445.86) scale(1.2545 1)" font-size="17.39" font-style="italic" fill="#000" stroke="#fff" stroke-width="0.16">f</text>
<text transform="translate(494.78 446.04) scale(0.8949 1)" font-size="19.34" fill="#000" stroke="#fff" stroke-width="0.16">)</text>
<polyline points="380.00,385.30 385.00,395.30 390.00,385.30" fill="none" stroke="#111" stroke-width="0.9"/>
<text transform="translate(390.62 379.78) rotate(-90) scale(1.0041 1)" font-size="18.30" font-style="italic" fill="#000" stroke="#fff" stroke-width="0.16">v</text>
<text transform="translate(390.97 371.51) rotate(-90) scale(1.2055 1)" font-size="12.70" fill="#000" stroke="#fff" stroke-width="0.16">exp</text>
<polyline points="380.00,343.20 385.00,333.20 390.00,343.20" fill="none" stroke="#111" stroke-width="0.9"/>
<line x1="375.90" y1="316.90" x2="393.70" y2="325.10" stroke="#111" stroke-width="0.9"/>
<text transform="translate(391.10 315.11) rotate(-90) scale(0.8915 1)" font-size="20.00" font-style="italic" fill="#000" stroke="#fff" stroke-width="0.16">RC</text>
</g>
</svg>
</body></html>
